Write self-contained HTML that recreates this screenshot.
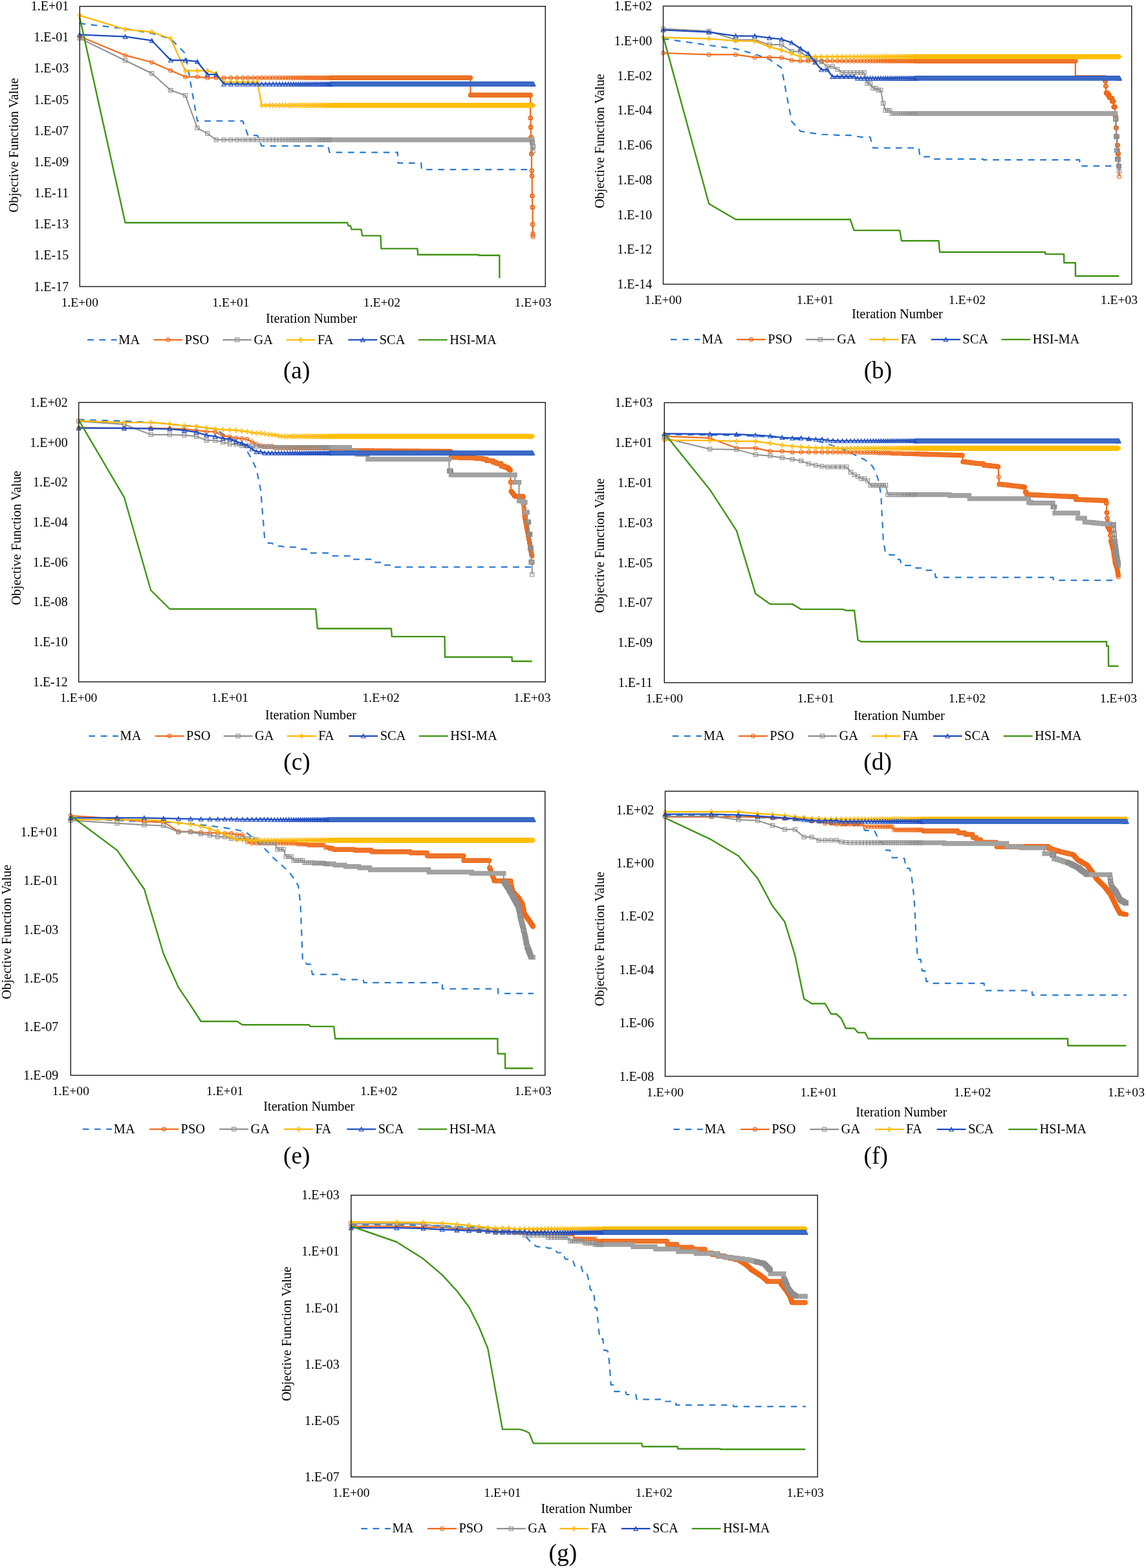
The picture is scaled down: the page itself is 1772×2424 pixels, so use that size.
<!DOCTYPE html><html><head><meta charset="utf-8"><title>Convergence curves</title><style>html,body{margin:0;padding:0;background:#fff;}svg{display:block;}</style></head><body>
<svg width="1772" height="2424" viewBox="0 0 1772 2424" font-family="'Liberation Serif','Times New Roman',serif" fill="#000">
<rect width="1772" height="2424" fill="#fff"/>
<defs><marker id="mPSO" markerUnits="userSpaceOnUse" markerWidth="12" markerHeight="12" refX="6" refY="6" overflow="visible"><circle cx="6" cy="6" r="2.95" fill="none" stroke="#EF6A1A" stroke-width="1.15"/></marker><marker id="mGA" markerUnits="userSpaceOnUse" markerWidth="12" markerHeight="12" refX="6" refY="6" overflow="visible"><rect x="2.95" y="3.1" width="6.1" height="5.8" fill="none" stroke="#8F8F8F" stroke-width="1.15"/></marker><marker id="mFA" markerUnits="userSpaceOnUse" markerWidth="12" markerHeight="12" refX="6" refY="6" overflow="visible"><path d="M6 2.4L8.7 6L6 9.6L3.3 6Z" fill="none" stroke="#FFB900" stroke-width="1.15"/></marker><marker id="mSCA" markerUnits="userSpaceOnUse" markerWidth="12" markerHeight="12" refX="6" refY="6" overflow="visible"><path d="M6 2.9L9.3 8.9L2.7 8.9Z" fill="none" stroke="#1C4BBF" stroke-width="1.15"/></marker><marker id="fPSO" markerUnits="userSpaceOnUse" markerWidth="12" markerHeight="12" refX="6" refY="6" overflow="visible"><circle cx="6" cy="6" r="3.3" fill="#EE7428" stroke="#EB620F" stroke-width="1"/></marker><marker id="fGA" markerUnits="userSpaceOnUse" markerWidth="12" markerHeight="12" refX="6" refY="6" overflow="visible"><rect x="2.8" y="2.85" width="6.4" height="6.3" fill="#A2A2A2" stroke="#999999" stroke-width="1"/></marker><marker id="fFA" markerUnits="userSpaceOnUse" markerWidth="12" markerHeight="12" refX="6" refY="6" overflow="visible"><path d="M6 2.3L9.9 6L6 9.7L2.1 6Z" fill="#FFBF00" stroke="#FFB800" stroke-width="1"/></marker><marker id="fSCA" markerUnits="userSpaceOnUse" markerWidth="12" markerHeight="12" refX="6" refY="6" overflow="visible"><path d="M5.1 2.6L6.9 2.6L10.1 9.4L1.9 9.4Z" fill="#3B6AC6" stroke="#2256BE" stroke-width="1"/></marker></defs>
<g>
<path d="M123.3 36.2 L193.6 44.4 L234.8 51.6 L263.9 60.1 L286.6 82.9 L305.1 187 L375.4 187 L383.5 209.4 L398 209.4 L404.6 225.7 L507.2 225.7 L509.5 235.6 L614.7 235.6 L615.5 252.2 L651.3 252.2 L651.8 262.1 L824.1 262.1" fill="none" stroke="#2A7AD0" stroke-width="2.2" stroke-linejoin="round" stroke-dasharray="8 10.3" stroke-linecap="round"/>
<path d="M123.3 56.2 L193.6 85.4 L234.8 96.2 L263.9 109 L286.6 118.8 L305.1 118.8 L320.7 120.3 L727.3 120.3 L727.5 147 L820.1 147 L820.2 182.4 L820.5 182.4 L820.6 196.6 L820.7 197.3 L820.8 196.1 L820.9 212.3 L821.4 212.3 L821.5 237.8 L821.9 237.8 L822.1 264 L822.3 264 L822.4 272 L822.7 272 L822.8 302.8 L823.1 302.8 L823.2 320.4 L823.5 320.4 L823.6 346.9 L823.8 346.9 L823.9 361.1 L824 363.5 L824.1 365.9" fill="none" stroke="#EF6A1A" stroke-width="2.2" stroke-linejoin="round"/>
<path d="M511.7 120.3H727.3M727.5 147H820.1" fill="none" stroke="#EB620F" stroke-width="7.6" stroke-linecap="round"/>
<path d="M511.7 120.3H727.3M727.5 147H820.1" fill="none" stroke="#EE7428" stroke-width="5.6" stroke-linecap="round"/>
<path d="M123.3 56.2 L193.6 85.4 L234.8 96.2 L263.9 109 L286.6 118.8 L305.1 118.8 L320.7 120.3 L334.3 120.3 L346.2 120.3 L356.9 120.3 L366.6 120.3 L375.4 120.3 L383.5 120.3 L391 120.3 L398 120.3 L404.6 120.3 L410.7 120.3 L416.5 120.3 L422 120.3 L427.2 120.3 L432.2 120.3 L436.9 120.3 L441.4 120.3 L445.7 120.3 L449.9 120.3 L453.8 120.3 L457.7 120.3 L461.4 120.3 L464.9 120.3 L468.4 120.3 L471.7 120.3 L474.9 120.3 L478 120.3 L481.1 120.3 L484 120.3 L486.9 120.3 L489.6 120.3 L492.3 120.3 L495 120.3 L497.5 120.3 L500 120.3 L502.5 120.3 L504.9 120.3 L507.2 120.3 L509.5 120.3 L820.2 182.4 L820.3 182.4 L820.4 182.4 L820.5 182.4 L820.6 196.6 L820.7 197.3 L820.8 196.1 L820.9 212.3 L821 212.3 L821.1 212.3 L821.2 212.3 L821.3 212.3 L821.4 212.3 L821.5 237.8 L821.6 237.8 L821.7 237.8 L821.8 237.8 L821.9 237.8 L822.1 264 L822.2 264 L822.3 264 L822.4 272 L822.5 272 L822.6 272 L822.7 272 L822.8 302.8 L822.9 302.8 L823 302.8 L823.1 302.8 L823.2 320.4 L823.3 320.4 L823.4 320.4 L823.5 320.4 L823.6 346.9 L823.7 346.9 L823.8 346.9 L823.9 361.1 L824 363.5 L824.1 365.9" fill="none" stroke="none" marker-start="url(#mPSO)" marker-mid="url(#mPSO)" marker-end="url(#mPSO)"/>
<path d="M123.3 59.1 L193.6 93.5 L234.8 113.5 L263.9 139.5 L286.6 147.5 L305.1 197.8 L320.7 206.5 L334.3 216.1 L823 216.1 L823.1 220.2 L823.5 220.2 L823.6 226.2 L824 226.2 L824.1 233.7" fill="none" stroke="#8F8F8F" stroke-width="2.0" stroke-linejoin="round"/>
<path d="M511.7 216.1H823" fill="none" stroke="#999999" stroke-width="7.3" stroke-linecap="square"/>
<path d="M511.7 216.1H823" fill="none" stroke="#A2A2A2" stroke-width="5.3" stroke-linecap="square"/>
<path d="M123.3 59.1 L193.6 93.5 L234.8 113.5 L263.9 139.5 L286.6 147.5 L305.1 197.8 L320.7 206.5 L334.3 216.1 L346.2 216.1 L356.9 216.1 L366.6 216.1 L375.4 216.1 L383.5 216.1 L391 216.1 L398 216.1 L404.6 216.1 L410.7 216.1 L416.5 216.1 L422 216.1 L427.2 216.1 L432.2 216.1 L436.9 216.1 L441.4 216.1 L445.7 216.1 L449.9 216.1 L453.8 216.1 L457.7 216.1 L461.4 216.1 L464.9 216.1 L468.4 216.1 L471.7 216.1 L474.9 216.1 L478 216.1 L481.1 216.1 L484 216.1 L486.9 216.1 L489.6 216.1 L492.3 216.1 L495 216.1 L497.5 216.1 L500 216.1 L502.5 216.1 L504.9 216.1 L507.2 216.1 L509.5 216.1 L823.1 220.2 L823.2 220.2 L823.3 220.2 L823.4 220.2 L823.5 220.2 L823.6 226.2 L823.7 226.2 L823.8 226.2 L823.9 226.2 L824 226.2 L824.1 233.7" fill="none" stroke="none" marker-start="url(#mGA)" marker-mid="url(#mGA)" marker-end="url(#mGA)"/>
<path d="M123.3 23.9 L193.6 45.4 L234.8 49.5 L263.9 59.8 L286.6 109.4 L320.7 109.4 L334.3 113.5 L346.2 127 L398 127 L404.6 162.9 L824.1 162.9" fill="none" stroke="#FFB900" stroke-width="2.3" stroke-linejoin="round"/>
<path d="M511.7 162.9 L824.1 162.9" fill="none" stroke="none" marker-start="url(#fFA)" marker-mid="url(#fFA)" marker-end="url(#fFA)"/>
<path d="M511.7 162.9H824.1" fill="none" stroke="#FFB800" stroke-width="7.8" stroke-linecap="butt"/>
<path d="M511.7 162.9H824.1" fill="none" stroke="#FFBF00" stroke-width="5.8" stroke-linecap="butt"/>
<path d="M123.3 23.9 L193.6 45.4 L234.8 49.5 L263.9 59.8 L286.6 109.4 L305.1 109.4 L320.7 109.4 L334.3 113.5 L346.2 127 L356.9 127 L366.6 127 L375.4 127 L383.5 127 L391 127 L398 127 L404.6 162.9 L410.7 162.9 L416.5 162.9 L422 162.9 L427.2 162.9 L432.2 162.9 L436.9 162.9 L441.4 162.9 L445.7 162.9 L449.9 162.9 L453.8 162.9 L457.7 162.9 L461.4 162.9 L464.9 162.9 L468.4 162.9 L471.7 162.9 L474.9 162.9 L478 162.9 L481.1 162.9 L484 162.9 L486.9 162.9 L489.6 162.9 L492.3 162.9 L495 162.9 L497.5 162.9 L500 162.9 L502.5 162.9 L504.9 162.9 L507.2 162.9 L509.5 162.9" fill="none" stroke="none" marker-start="url(#mFA)" marker-mid="url(#mFA)" marker-end="url(#mFA)"/>
<path d="M123.3 53.6 L193.6 56.7 L234.8 62.7 L263.9 93.1 L286.6 93.1 L305.1 95.2 L320.7 115.2 L334.3 115.2 L346.2 129.9 L824.1 129.9" fill="none" stroke="#1C4BBF" stroke-width="2.3" stroke-linejoin="round"/>
<path d="M511.7 129.9 L824.1 129.9" fill="none" stroke="none" marker-start="url(#fSCA)" marker-mid="url(#fSCA)" marker-end="url(#fSCA)"/>
<path d="M511.7 129.9H824.1" fill="none" stroke="#2256BE" stroke-width="7.8" stroke-linecap="butt"/>
<path d="M511.7 129.9H824.1" fill="none" stroke="#3B6AC6" stroke-width="5.8" stroke-linecap="butt"/>
<path d="M123.3 53.6 L193.6 56.7 L234.8 62.7 L263.9 93.1 L286.6 93.1 L305.1 95.2 L320.7 115.2 L334.3 115.2 L346.2 129.9 L356.9 129.9 L366.6 129.9 L375.4 129.9 L383.5 129.9 L391 129.9 L398 129.9 L404.6 129.9 L410.7 129.9 L416.5 129.9 L422 129.9 L427.2 129.9 L432.2 129.9 L436.9 129.9 L441.4 129.9 L445.7 129.9 L449.9 129.9 L453.8 129.9 L457.7 129.9 L461.4 129.9 L464.9 129.9 L468.4 129.9 L471.7 129.9 L474.9 129.9 L478 129.9 L481.1 129.9 L484 129.9 L486.9 129.9 L489.6 129.9 L492.3 129.9 L495 129.9 L497.5 129.9 L500 129.9 L502.5 129.9 L504.9 129.9 L507.2 129.9 L509.5 129.9" fill="none" stroke="none" marker-start="url(#mSCA)" marker-mid="url(#mSCA)" marker-end="url(#mSCA)"/>
<path d="M123.3 27.3 L193.6 344.2 L537 344.2 L538.7 349 L542 349 L543.6 354.6 L558.6 354.6 L560 364.4 L588.5 364.4 L589.5 384.4 L645.5 384.4 L646.1 393.8 L739.9 393.8 L740.1 394.8 L772.3 394.8 L772.4 429.9" fill="none" stroke="#409414" stroke-width="2.4" stroke-linejoin="round"/>
<rect x="123.3" y="9.8" width="720" height="433.2" fill="none" stroke="#222" stroke-width="1.5"/>
<g font-size="20.0" text-anchor="end"><text x="106.2" y="16.1">1.E+01</text><text x="106.2" y="64.3">1.E-01</text><text x="106.2" y="112.4">1.E-03</text><text x="106.2" y="160.6">1.E-05</text><text x="106.2" y="208.7">1.E-07</text><text x="106.2" y="256.9">1.E-09</text><text x="106.2" y="305.1">1.E-11</text><text x="106.2" y="353.2">1.E-13</text><text x="106.2" y="401.4">1.E-15</text><text x="106.2" y="449.5">1.E-17</text></g>
<g font-size="19.6" text-anchor="middle"><text x="123.3" y="473.9">1.E+00</text><text x="356.9" y="473.9">1.E+01</text><text x="590.5" y="473.9">1.E+02</text><text x="824.1" y="473.9">1.E+03</text></g>
<text x="481.5" y="498.9" font-size="20.4" text-anchor="middle">Iteration Number</text>
<text transform="translate(28.1 224.5) rotate(-90)" font-size="20.4" text-anchor="middle">Objective Function Value</text>
<g font-size="20.4"><path d="M136.1 525.3H179.8" stroke="#2A7AD0" stroke-width="2.2" stroke-dasharray="8 10.3" stroke-linecap="round" fill="none"/><text x="183.3" y="531.5">MA</text><path d="M237.5 525.3H282.3" stroke="#EF6A1A" stroke-width="2.2" fill="none"/><path d="M259.9 525.3L259.9 525.3" stroke="none" fill="none" marker-start="url(#mPSO)"/><text x="285.8" y="531.5">PSO</text><path d="M344.3 525.3H389.1" stroke="#8F8F8F" stroke-width="2.2" fill="none"/><path d="M366.7 525.3L366.7 525.3" stroke="none" fill="none" marker-start="url(#mGA)"/><text x="392.6" y="531.5">GA</text><path d="M442.6 525.3H487.4" stroke="#FFB900" stroke-width="2.2" fill="none"/><path d="M465 525.3L465 525.3" stroke="none" fill="none" marker-start="url(#mFA)"/><text x="490.9" y="531.5">FA</text><path d="M538.4 525.3H583.2" stroke="#1C4BBF" stroke-width="2.2" fill="none"/><path d="M560.8 525.3L560.8 525.3" stroke="none" fill="none" marker-start="url(#mSCA)"/><text x="586.7" y="531.5">SCA</text><path d="M646.9 525.3H691.7" stroke="#409414" stroke-width="2.2" fill="none"/><text x="695.2" y="531.5">HSI-MA</text></g>
<text x="458.7" y="585.4" font-size="37.5" text-anchor="middle">(a)</text>
</g>
<g>
<path d="M1025.5 59.8 L1096.2 70 L1137.6 75.5 L1167 83.6 L1189.8 91.9 L1208.4 104.8 L1224.1 187.6 L1237.7 202.9 L1249.7 204.8 L1260.5 206.4 L1270.2 208 L1287.3 208 L1294.8 209.1 L1314.7 209.1 L1320.5 211 L1326 211 L1331.2 211.8 L1345.5 211.8 L1349.8 228.7 L1420.6 228.7 L1422.7 242.4 L1441.7 242.4 L1443.4 245.9 L1519.9 245.9 L1520.7 247.2 L1669.3 247.2 L1669.5 256.6 L1730.5 256.6" fill="none" stroke="#2A7AD0" stroke-width="2.2" stroke-linejoin="round" stroke-dasharray="8 10.3" stroke-linecap="round"/>
<path d="M1025.5 82 L1096.2 84.4 L1137.6 84.4 L1167 88.7 L1189.8 88.7 L1208.4 89.2 L1224.1 93.3 L1237.7 94.3 L1662.8 94.3 L1663 120.1 L1708.5 120.1 L1708.6 125 L1709.5 125 L1709.6 133 L1710.1 133 L1710.2 143.8 L1712.6 143.8 L1712.7 146.5 L1715 146.5 L1715.1 150.8 L1717.3 150.8 L1717.5 151.8 L1719.6 151.8 L1719.7 156.7 L1721.9 156.7 L1722 165.3 L1724.1 165.3 L1724.2 178.7 L1725.2 178.7 L1725.3 197.5 L1726.2 197.5 L1726.3 211 L1727.3 211 L1727.4 224.4 L1728.3 224.4 L1728.4 237.8 L1729.4 237.8 L1729.5 256.6 L1730.4 256.6 L1730.5 272.8" fill="none" stroke="#EF6A1A" stroke-width="2.2" stroke-linejoin="round"/>
<path d="M1416.2 94.3H1662.8M1663 120.1H1708.5" fill="none" stroke="#EB620F" stroke-width="7.6" stroke-linecap="round"/>
<path d="M1416.2 94.3H1662.8M1663 120.1H1708.5" fill="none" stroke="#EE7428" stroke-width="5.6" stroke-linecap="round"/>
<path d="M1025.5 82 L1096.2 84.4 L1137.6 84.4 L1167 88.7 L1189.8 88.7 L1208.4 89.2 L1224.1 93.3 L1237.7 94.3 L1249.7 94.3 L1260.5 94.3 L1270.2 94.3 L1279.1 94.3 L1287.3 94.3 L1294.8 94.3 L1301.9 94.3 L1308.5 94.3 L1314.7 94.3 L1320.5 94.3 L1326 94.3 L1331.2 94.3 L1336.2 94.3 L1341 94.3 L1345.5 94.3 L1349.8 94.3 L1354 94.3 L1358 94.3 L1361.9 94.3 L1365.6 94.3 L1369.2 94.3 L1372.6 94.3 L1376 94.3 L1379.2 94.3 L1382.4 94.3 L1385.4 94.3 L1388.4 94.3 L1391.2 94.3 L1394 94.3 L1396.7 94.3 L1399.4 94.3 L1402 94.3 L1404.5 94.3 L1407 94.3 L1409.4 94.3 L1411.7 94.3 L1414 94.3 L1708.6 125 L1708.7 125 L1708.9 125 L1709 125 L1709.1 125 L1709.2 125 L1709.4 125 L1709.5 125 L1709.6 133 L1709.7 133 L1709.9 133 L1710 133 L1710.1 133 L1710.2 143.8 L1710.4 143.8 L1710.5 143.8 L1710.6 143.8 L1710.7 143.8 L1710.9 143.8 L1711 143.8 L1711.1 143.8 L1711.2 143.8 L1711.4 143.8 L1711.5 143.8 L1711.6 143.8 L1711.7 143.8 L1711.9 143.8 L1712 143.8 L1712.1 143.8 L1712.2 143.8 L1712.3 143.8 L1712.5 143.8 L1712.6 143.8 L1712.7 146.5 L1712.8 146.5 L1712.9 146.5 L1713.1 146.5 L1713.2 146.5 L1713.3 146.5 L1713.4 146.5 L1713.6 146.5 L1713.7 146.5 L1713.8 146.5 L1713.9 146.5 L1714 146.5 L1714.2 146.5 L1714.3 146.5 L1714.4 146.5 L1714.5 146.5 L1714.6 146.5 L1714.8 146.5 L1714.9 146.5 L1715 146.5 L1715.1 150.8 L1715.2 150.8 L1715.3 150.8 L1715.5 150.8 L1715.6 150.8 L1715.7 150.8 L1715.8 150.8 L1715.9 150.8 L1716.1 150.8 L1716.2 150.8 L1716.3 150.8 L1716.4 150.8 L1716.5 150.8 L1716.6 150.8 L1716.8 150.8 L1716.9 150.8 L1717 150.8 L1717.1 150.8 L1717.2 150.8 L1717.3 150.8 L1717.5 151.8 L1717.6 151.8 L1717.7 151.8 L1717.8 151.8 L1717.9 151.8 L1718 151.8 L1718.1 151.8 L1718.3 151.8 L1718.4 151.8 L1718.5 151.8 L1718.6 151.8 L1718.7 151.8 L1718.8 151.8 L1719 151.8 L1719.1 151.8 L1719.2 151.8 L1719.3 151.8 L1719.4 151.8 L1719.5 151.8 L1719.6 151.8 L1719.7 156.7 L1719.9 156.7 L1720 156.7 L1720.1 156.7 L1720.2 156.7 L1720.3 156.7 L1720.4 156.7 L1720.5 156.7 L1720.7 156.7 L1720.8 156.7 L1720.9 156.7 L1721 156.7 L1721.1 156.7 L1721.2 156.7 L1721.3 156.7 L1721.4 156.7 L1721.5 156.7 L1721.7 156.7 L1721.8 156.7 L1721.9 156.7 L1722 165.3 L1722.1 165.3 L1722.2 165.3 L1722.3 165.3 L1722.4 165.3 L1722.5 165.3 L1722.7 165.3 L1722.8 165.3 L1722.9 165.3 L1723 165.3 L1723.1 165.3 L1723.2 165.3 L1723.3 165.3 L1723.4 165.3 L1723.5 165.3 L1723.6 165.3 L1723.7 165.3 L1723.9 165.3 L1724 165.3 L1724.1 165.3 L1724.2 178.7 L1724.3 178.7 L1724.4 178.7 L1724.5 178.7 L1724.6 178.7 L1724.7 178.7 L1724.8 178.7 L1724.9 178.7 L1725 178.7 L1725.2 178.7 L1725.3 197.5 L1725.4 197.5 L1725.5 197.5 L1725.6 197.5 L1725.7 197.5 L1725.8 197.5 L1725.9 197.5 L1726 197.5 L1726.1 197.5 L1726.2 197.5 L1726.3 211 L1726.4 211 L1726.5 211 L1726.7 211 L1726.8 211 L1726.9 211 L1727 211 L1727.1 211 L1727.2 211 L1727.3 211 L1727.4 224.4 L1727.5 224.4 L1727.6 224.4 L1727.7 224.4 L1727.8 224.4 L1727.9 224.4 L1728 224.4 L1728.1 224.4 L1728.2 224.4 L1728.3 224.4 L1728.4 237.8 L1728.5 237.8 L1728.6 237.8 L1728.8 237.8 L1728.9 237.8 L1729 237.8 L1729.1 237.8 L1729.2 237.8 L1729.3 237.8 L1729.4 237.8 L1729.5 256.6 L1729.6 256.6 L1729.7 256.6 L1729.8 256.6 L1729.9 256.6 L1730 256.6 L1730.1 256.6 L1730.2 256.6 L1730.3 256.6 L1730.4 256.6 L1730.5 272.8" fill="none" stroke="none" marker-start="url(#mPSO)" marker-mid="url(#mPSO)" marker-end="url(#mPSO)"/>
<path d="M1025.5 44.6 L1096.2 48.1 L1137.6 61.5 L1167 61.5 L1189.8 69.1 L1208.4 69.1 L1224.1 79.3 L1237.7 80.1 L1249.7 89.5 L1260.5 93 L1270.2 95.4 L1279.1 102.9 L1287.3 102.9 L1294.8 107.2 L1301.9 112.3 L1336.2 112.3 L1341 129 L1345.5 129 L1349.8 136.3 L1354 136.3 L1358 139.2 L1361.9 139.2 L1365.6 159.6 L1369.2 170.7 L1376 170.7 L1379.2 175.5 L1724.6 175.5 L1724.7 184.1 L1725.7 184.1 L1725.8 211 L1726.8 211 L1726.9 232.5 L1727.8 232.5 L1727.9 245.9 L1729.4 245.9 L1729.5 256.6 L1730.4 256.6 L1730.5 264.7" fill="none" stroke="#8F8F8F" stroke-width="2.0" stroke-linejoin="round"/>
<path d="M1416.2 175.5H1724.6" fill="none" stroke="#999999" stroke-width="7.3" stroke-linecap="square"/>
<path d="M1416.2 175.5H1724.6" fill="none" stroke="#A2A2A2" stroke-width="5.3" stroke-linecap="square"/>
<path d="M1025.5 44.6 L1096.2 48.1 L1137.6 61.5 L1167 61.5 L1189.8 69.1 L1208.4 69.1 L1224.1 79.3 L1237.7 80.1 L1249.7 89.5 L1260.5 93 L1270.2 95.4 L1279.1 102.9 L1287.3 102.9 L1294.8 107.2 L1301.9 112.3 L1308.5 112.3 L1314.7 112.3 L1320.5 112.3 L1326 112.3 L1331.2 112.3 L1336.2 112.3 L1341 129 L1345.5 129 L1349.8 136.3 L1354 136.3 L1358 139.2 L1361.9 139.2 L1365.6 159.6 L1369.2 170.7 L1372.6 170.7 L1376 170.7 L1379.2 175.5 L1382.4 175.5 L1385.4 175.5 L1388.4 175.5 L1391.2 175.5 L1394 175.5 L1396.7 175.5 L1399.4 175.5 L1402 175.5 L1404.5 175.5 L1407 175.5 L1409.4 175.5 L1411.7 175.5 L1414 175.5 L1724.7 184.1 L1724.8 184.1 L1724.9 184.1 L1725 184.1 L1725.2 184.1 L1725.3 184.1 L1725.4 184.1 L1725.5 184.1 L1725.6 184.1 L1725.7 184.1 L1725.8 211 L1725.9 211 L1726 211 L1726.1 211 L1726.2 211 L1726.3 211 L1726.4 211 L1726.5 211 L1726.7 211 L1726.8 211 L1726.9 232.5 L1727 232.5 L1727.1 232.5 L1727.2 232.5 L1727.3 232.5 L1727.4 232.5 L1727.5 232.5 L1727.6 232.5 L1727.7 232.5 L1727.8 232.5 L1727.9 245.9 L1728 245.9 L1728.1 245.9 L1728.2 245.9 L1728.3 245.9 L1728.4 245.9 L1728.5 245.9 L1728.6 245.9 L1728.8 245.9 L1728.9 245.9 L1729 245.9 L1729.1 245.9 L1729.2 245.9 L1729.3 245.9 L1729.4 245.9 L1729.5 256.6 L1729.6 256.6 L1729.7 256.6 L1729.8 256.6 L1729.9 256.6 L1730 256.6 L1730.1 256.6 L1730.2 256.6 L1730.3 256.6 L1730.4 256.6 L1730.5 264.7" fill="none" stroke="none" marker-start="url(#mGA)" marker-mid="url(#mGA)" marker-end="url(#mGA)"/>
<path d="M1025.5 58 L1096.2 59.8 L1137.6 63.1 L1167 63.7 L1189.8 72.3 L1208.4 77.4 L1224.1 82.8 L1237.7 87.6 L1730.5 87.6" fill="none" stroke="#FFB900" stroke-width="2.3" stroke-linejoin="round"/>
<path d="M1416.2 87.6 L1730.5 87.6" fill="none" stroke="none" marker-start="url(#fFA)" marker-mid="url(#fFA)" marker-end="url(#fFA)"/>
<path d="M1416.2 87.6H1730.5" fill="none" stroke="#FFB800" stroke-width="7.8" stroke-linecap="butt"/>
<path d="M1416.2 87.6H1730.5" fill="none" stroke="#FFBF00" stroke-width="5.8" stroke-linecap="butt"/>
<path d="M1025.5 58 L1096.2 59.8 L1137.6 63.1 L1167 63.7 L1189.8 72.3 L1208.4 77.4 L1224.1 82.8 L1237.7 87.6 L1249.7 87.6 L1260.5 87.6 L1270.2 87.6 L1279.1 87.6 L1287.3 87.6 L1294.8 87.6 L1301.9 87.6 L1308.5 87.6 L1314.7 87.6 L1320.5 87.6 L1326 87.6 L1331.2 87.6 L1336.2 87.6 L1341 87.6 L1345.5 87.6 L1349.8 87.6 L1354 87.6 L1358 87.6 L1361.9 87.6 L1365.6 87.6 L1369.2 87.6 L1372.6 87.6 L1376 87.6 L1379.2 87.6 L1382.4 87.6 L1385.4 87.6 L1388.4 87.6 L1391.2 87.6 L1394 87.6 L1396.7 87.6 L1399.4 87.6 L1402 87.6 L1404.5 87.6 L1407 87.6 L1409.4 87.6 L1411.7 87.6 L1414 87.6" fill="none" stroke="none" marker-start="url(#mFA)" marker-mid="url(#mFA)" marker-end="url(#mFA)"/>
<path d="M1025.5 46.3 L1096.2 49.7 L1137.6 55.6 L1167 55.6 L1189.8 58.6 L1208.4 60.7 L1224.1 66.1 L1237.7 75 L1249.7 82.8 L1260.5 96.2 L1270.2 107.8 L1279.1 107.8 L1287.3 118.5 L1320.5 118.5 L1326 120.9 L1730.5 120.9" fill="none" stroke="#1C4BBF" stroke-width="2.3" stroke-linejoin="round"/>
<path d="M1416.2 120.9 L1730.5 120.9" fill="none" stroke="none" marker-start="url(#fSCA)" marker-mid="url(#fSCA)" marker-end="url(#fSCA)"/>
<path d="M1416.2 120.9H1730.5" fill="none" stroke="#2256BE" stroke-width="7.8" stroke-linecap="butt"/>
<path d="M1416.2 120.9H1730.5" fill="none" stroke="#3B6AC6" stroke-width="5.8" stroke-linecap="butt"/>
<path d="M1025.5 46.3 L1096.2 49.7 L1137.6 55.6 L1167 55.6 L1189.8 58.6 L1208.4 60.7 L1224.1 66.1 L1237.7 75 L1249.7 82.8 L1260.5 96.2 L1270.2 107.8 L1279.1 107.8 L1287.3 118.5 L1294.8 118.5 L1301.9 118.5 L1308.5 118.5 L1314.7 118.5 L1320.5 118.5 L1326 120.9 L1331.2 120.9 L1336.2 120.9 L1341 120.9 L1345.5 120.9 L1349.8 120.9 L1354 120.9 L1358 120.9 L1361.9 120.9 L1365.6 120.9 L1369.2 120.9 L1372.6 120.9 L1376 120.9 L1379.2 120.9 L1382.4 120.9 L1385.4 120.9 L1388.4 120.9 L1391.2 120.9 L1394 120.9 L1396.7 120.9 L1399.4 120.9 L1402 120.9 L1404.5 120.9 L1407 120.9 L1409.4 120.9 L1411.7 120.9 L1414 120.9" fill="none" stroke="none" marker-start="url(#mSCA)" marker-mid="url(#mSCA)" marker-end="url(#mSCA)"/>
<path d="M1025.5 56.4 L1096.2 315 L1137.6 339.2 L1314.7 339.2 L1320.5 356.1 L1391.2 356.1 L1394 372.2 L1451.5 372.2 L1453.1 389.7 L1616.1 389.7 L1616.4 392.9 L1645.1 392.9 L1645.3 406.3 L1662.8 406.3 L1663 426.8 L1730.5 426.8" fill="none" stroke="#409414" stroke-width="2.4" stroke-linejoin="round"/>
<rect x="1025.5" y="9.4" width="724.3" height="430" fill="none" stroke="#222" stroke-width="1.5"/>
<g font-size="20.0" text-anchor="end"><text x="1008.2" y="16">1.E+02</text><text x="1008.2" y="69.8">1.E+00</text><text x="1008.2" y="123.5">1.E-02</text><text x="1008.2" y="177.2">1.E-04</text><text x="1008.2" y="231">1.E-06</text><text x="1008.2" y="284.8">1.E-08</text><text x="1008.2" y="338.5">1.E-10</text><text x="1008.2" y="392.2">1.E-12</text><text x="1008.2" y="446">1.E-14</text></g>
<g font-size="19.6" text-anchor="middle"><text x="1025.5" y="470">1.E+00</text><text x="1260.5" y="470">1.E+01</text><text x="1495.5" y="470">1.E+02</text><text x="1730.5" y="470">1.E+03</text></g>
<text x="1387.4" y="491.5" font-size="20.4" text-anchor="middle">Iteration Number</text>
<text transform="translate(933.8 218.1) rotate(-90)" font-size="20.4" text-anchor="middle">Objective Function Value</text>
<g font-size="20.4"><path d="M1037.8 524.8H1081.5" stroke="#2A7AD0" stroke-width="2.2" stroke-dasharray="8 10.3" stroke-linecap="round" fill="none"/><text x="1085" y="531">MA</text><path d="M1139 524.8H1183.8" stroke="#EF6A1A" stroke-width="2.2" fill="none"/><path d="M1161.4 524.8L1161.4 524.8" stroke="none" fill="none" marker-start="url(#mPSO)"/><text x="1187.3" y="531">PSO</text><path d="M1245.9 524.8H1290.7" stroke="#8F8F8F" stroke-width="2.2" fill="none"/><path d="M1268.3 524.8L1268.3 524.8" stroke="none" fill="none" marker-start="url(#mGA)"/><text x="1294.2" y="531">GA</text><path d="M1344.4 524.8H1389.2" stroke="#FFB900" stroke-width="2.2" fill="none"/><path d="M1366.8 524.8L1366.8 524.8" stroke="none" fill="none" marker-start="url(#mFA)"/><text x="1392.7" y="531">FA</text><path d="M1440 524.8H1484.8" stroke="#1C4BBF" stroke-width="2.2" fill="none"/><path d="M1462.4 524.8L1462.4 524.8" stroke="none" fill="none" marker-start="url(#mSCA)"/><text x="1488.3" y="531">SCA</text><path d="M1548.5 524.8H1593.3" stroke="#409414" stroke-width="2.2" fill="none"/><text x="1596.8" y="531">HSI-MA</text></g>
<text x="1357.5" y="585.3" font-size="37.5" text-anchor="middle">(b)</text>
</g>
<g>
<path d="M121.7 648.7 L192.1 650.9 L233.2 653.1 L262.4 655.5 L285 657.7 L303.6 659.2 L319.2 661.4 L332.8 663.2 L344.7 670.9 L355.4 677.1 L365.1 681.4 L373.9 686.7 L382 697.2 L389.6 710.7 L396.6 725.2 L403.1 757.9 L409.3 833.8 L415.1 839.7 L420.5 839.7 L425.8 844.3 L435.4 844.3 L439.9 845.9 L459.9 845.9 L463.5 848.9 L473.5 848.9 L476.6 854.8 L510.3 854.8 L512.5 859.4 L540.6 859.4 L542.2 864.7 L573.8 864.7 L575 869.3 L590.1 869.3 L591.1 873.6 L605.9 873.6 L606.8 876.7 L822.8 876.7" fill="none" stroke="#2A7AD0" stroke-width="2.2" stroke-linejoin="round" stroke-dasharray="8 10.3" stroke-linecap="round"/>
<path d="M121.7 661.4 L192.1 662 L233.2 662 L262.4 662.6 L285 663.2 L303.6 665.4 L319.2 667.2 L332.8 667.5 L344.7 673.7 L355.4 675.3 L365.1 677.1 L373.9 678 L382 679 L389.6 682.7 L396.6 686.4 L403.1 689.1 L409.3 689.8 L420.5 689.8 L425.8 692.5 L535.5 692.5 L537.3 696.9 L577.3 696.9 L578.4 697.1 L606.8 697.1 L607.6 697.3 L629.6 697.3 L630.3 697.4 L648.2 697.4 L648.8 697.5 L663.9 697.5 L664.4 697.6 L677.5 697.6 L678 697.7 L689.5 697.7 L689.9 697.8 L694.3 697.8 L694.7 697.8 L696.8 697.8 L697.2 707 L710 707 L710.3 707.7 L734.5 707.7 L734.8 708.6 L746 708.6 L746.2 709.8 L752.2 709.8 L752.4 712.3 L762.3 712.3 L762.5 714.8 L767.3 714.8 L767.5 716.6 L774.9 716.6 L775.1 720.6 L780.5 720.6 L780.6 722.5 L785 722.5 L785.1 724.6 L787.6 724.6 L787.8 726.5 L789 726.5 L789.2 727.1 L789.3 727.1 L789.5 745.6 L790 745.6 L790.2 759.5 L790.7 759.5 L790.9 760.4 L791.4 760.4 L791.6 761.2 L792.1 761.2 L792.2 762.1 L792.8 762.1 L792.9 763 L793.5 763 L793.6 763.8 L794.1 763.8 L794.3 764.7 L794.8 764.7 L794.9 765.5 L795.5 765.5 L795.6 766.4 L796.1 766.4 L796.3 767.2 L808.5 767.2 L808.7 768.7 L809 768.7 L809.1 774.5 L809.5 774.5 L809.6 780.3 L809.9 780.3 L810.1 786 L810.4 786 L810.5 791.7 L810.9 791.7 L811 797.4 L811.3 797.4 L811.4 799.8 L811.8 799.8 L811.9 802.2 L812.2 802.2 L812.3 804.6 L812.7 804.6 L812.8 807 L813.1 807 L813.2 809.4 L813.6 809.4 L813.7 811.7 L813.9 811.7 L814 813.5 L814.3 813.5 L814.4 815.8 L814.8 815.8 L814.9 818.1 L815.2 818.1 L815.3 820.5 L815.7 820.5 L815.8 822.8 L816.1 822.8 L816.2 825.1 L816.5 825.1 L816.6 827.4 L817 827.4 L817.1 829.7 L817.4 829.7 L817.5 831.9 L817.8 831.9 L817.9 834.2 L818.2 834.2 L818.3 836.5 L818.6 836.5 L818.7 838.2 L819 838.2 L819.1 840.8 L819.4 840.8 L819.5 843.5 L819.8 843.5 L819.9 846.1 L820.2 846.1 L820.3 848.8 L820.6 848.8 L820.7 851.4 L821.1 851.4 L821.2 854 L821.5 854 L821.6 856.6 L821.7 856.6 L821.8 857.9 L822.7 857.9 L822.8 859.7" fill="none" stroke="#EF6A1A" stroke-width="2.2" stroke-linejoin="round"/>
<path d="M510.3 692.5H535.5M537.3 696.9H577.3M578.4 697.1H606.8M607.6 697.3H629.6M630.3 697.4H648.2M648.8 697.5H663.9M664.4 697.6H677.5M678 697.7H689.5M689.9 697.8H694.3M697.2 707H710M710.3 707.7H734.5M734.8 708.6H746M746.2 709.8H752.2M752.4 712.3H762.3M762.5 714.8H767.3M767.5 716.6H774.9M775.1 720.6H780.5M780.6 722.5H785M796.3 767.2H808.5" fill="none" stroke="#EB620F" stroke-width="7.6" stroke-linecap="round"/>
<path d="M510.3 692.5H535.5M537.3 696.9H577.3M578.4 697.1H606.8M607.6 697.3H629.6M630.3 697.4H648.2M648.8 697.5H663.9M664.4 697.6H677.5M678 697.7H689.5M689.9 697.8H694.3M697.2 707H710M710.3 707.7H734.5M734.8 708.6H746M746.2 709.8H752.2M752.4 712.3H762.3M762.5 714.8H767.3M767.5 716.6H774.9M775.1 720.6H780.5M780.6 722.5H785M796.3 767.2H808.5" fill="none" stroke="#EE7428" stroke-width="5.6" stroke-linecap="round"/>
<path d="M121.7 661.4 L192.1 662 L233.2 662 L262.4 662.6 L285 663.2 L303.6 665.4 L319.2 667.2 L332.8 667.5 L344.7 673.7 L355.4 675.3 L365.1 677.1 L373.9 678 L382 679 L389.6 682.7 L396.6 686.4 L403.1 689.1 L409.3 689.8 L415.1 689.8 L420.5 689.8 L425.8 692.5 L430.7 692.5 L435.4 692.5 L439.9 692.5 L444.3 692.5 L448.4 692.5 L452.4 692.5 L456.2 692.5 L459.9 692.5 L463.5 692.5 L466.9 692.5 L470.2 692.5 L473.5 692.5 L476.6 692.5 L479.6 692.5 L482.5 692.5 L485.4 692.5 L488.2 692.5 L490.9 692.5 L493.5 692.5 L496.1 692.5 L498.6 692.5 L501.1 692.5 L503.4 692.5 L505.8 692.5 L508.1 692.5 L694.7 697.8 L695 697.8 L695.4 697.8 L695.8 697.8 L696.1 697.8 L696.5 697.8 L696.8 697.8 L785.1 724.6 L785.3 724.6 L785.4 724.6 L785.6 724.6 L785.7 724.6 L785.9 724.6 L786 724.6 L786.2 724.6 L786.3 724.6 L786.5 724.6 L786.6 724.6 L786.7 724.6 L786.9 724.6 L787 724.6 L787.2 724.6 L787.3 724.6 L787.5 724.6 L787.6 724.6 L787.8 726.5 L787.9 726.5 L788 726.5 L788.2 726.5 L788.3 726.5 L788.5 726.5 L788.6 726.5 L788.8 726.5 L788.9 726.5 L789 726.5 L789.2 727.1 L789.3 727.1 L789.5 745.6 L789.6 745.6 L789.7 745.6 L789.9 745.6 L790 745.6 L790.2 759.5 L790.3 759.5 L790.4 759.5 L790.6 759.5 L790.7 759.5 L790.9 760.4 L791 760.4 L791.1 760.4 L791.3 760.4 L791.4 760.4 L791.6 761.2 L791.7 761.2 L791.8 761.2 L792 761.2 L792.1 761.2 L792.2 762.1 L792.4 762.1 L792.5 762.1 L792.7 762.1 L792.8 762.1 L792.9 763 L793.1 763 L793.2 763 L793.3 763 L793.5 763 L793.6 763.8 L793.7 763.8 L793.9 763.8 L794 763.8 L794.1 763.8 L794.3 764.7 L794.4 764.7 L794.5 764.7 L794.7 764.7 L794.8 764.7 L794.9 765.5 L795.1 765.5 L795.2 765.5 L795.3 765.5 L795.5 765.5 L795.6 766.4 L795.7 766.4 L795.9 766.4 L796 766.4 L796.1 766.4 L808.7 768.7 L808.8 768.7 L808.9 768.7 L809 768.7 L809.1 774.5 L809.2 774.5 L809.4 774.5 L809.5 774.5 L809.6 780.3 L809.7 780.3 L809.8 780.3 L809.9 780.3 L810.1 786 L810.2 786 L810.3 786 L810.4 786 L810.5 791.7 L810.6 791.7 L810.7 791.7 L810.9 791.7 L811 797.4 L811.1 797.4 L811.2 797.4 L811.3 797.4 L811.4 799.8 L811.5 799.8 L811.7 799.8 L811.8 799.8 L811.9 802.2 L812 802.2 L812.1 802.2 L812.2 802.2 L812.3 804.6 L812.4 804.6 L812.6 804.6 L812.7 804.6 L812.8 807 L812.9 807 L813 807 L813.1 807 L813.2 809.4 L813.3 809.4 L813.5 809.4 L813.6 809.4 L813.7 811.7 L813.8 811.7 L813.9 811.7 L814 813.5 L814.1 813.5 L814.2 813.5 L814.3 813.5 L814.4 815.8 L814.6 815.8 L814.7 815.8 L814.8 815.8 L814.9 818.1 L815 818.1 L815.1 818.1 L815.2 818.1 L815.3 820.5 L815.4 820.5 L815.5 820.5 L815.7 820.5 L815.8 822.8 L815.9 822.8 L816 822.8 L816.1 822.8 L816.2 825.1 L816.3 825.1 L816.4 825.1 L816.5 825.1 L816.6 827.4 L816.7 827.4 L816.8 827.4 L817 827.4 L817.1 829.7 L817.2 829.7 L817.3 829.7 L817.4 829.7 L817.5 831.9 L817.6 831.9 L817.7 831.9 L817.8 831.9 L817.9 834.2 L818 834.2 L818.1 834.2 L818.2 834.2 L818.3 836.5 L818.4 836.5 L818.6 836.5 L818.7 838.2 L818.8 838.2 L818.9 838.2 L819 838.2 L819.1 840.8 L819.2 840.8 L819.3 840.8 L819.4 840.8 L819.5 843.5 L819.6 843.5 L819.7 843.5 L819.8 843.5 L819.9 846.1 L820 846.1 L820.1 846.1 L820.2 846.1 L820.3 848.8 L820.4 848.8 L820.5 848.8 L820.6 848.8 L820.7 851.4 L820.9 851.4 L821 851.4 L821.1 851.4 L821.2 854 L821.3 854 L821.4 854 L821.5 854 L821.6 856.6 L821.7 856.6 L821.8 857.9 L821.9 857.9 L822 857.9 L822.1 857.9 L822.2 857.9 L822.3 857.9 L822.4 857.9 L822.5 857.9 L822.6 857.9 L822.7 857.9 L822.8 859.7" fill="none" stroke="none" marker-start="url(#mPSO)" marker-mid="url(#mPSO)" marker-end="url(#mPSO)"/>
<path d="M121.7 651.2 L192.1 656.1 L233.2 671.9 L262.4 671.9 L285 672.8 L303.6 674.6 L319.2 680.8 L332.8 680.8 L344.7 683.6 L355.4 686.4 L365.1 686.7 L373.9 689.1 L382 689.1 L389.6 689.8 L403.1 689.8 L409.3 690.7 L420.5 690.7 L425.8 691.6 L540.6 691.6 L542.2 697.8 L551.4 697.8 L552.9 702.4 L567.7 702.4 L569 709.8 L694.3 709.8 L694.7 728 L697.2 728 L697.5 734.2 L796.1 734.2 L796.3 745.6 L802.5 745.6 L802.7 774.3 L808.5 774.3 L808.7 776.5 L812 776.5 L812.1 791.9 L815.3 791.9 L815.4 807.3 L817.5 807.3 L817.6 825.8 L819.6 825.8 L819.7 847.4 L821.2 847.4 L821.3 869 L822.7 869 L822.8 888.1" fill="none" stroke="#8F8F8F" stroke-width="2.0" stroke-linejoin="round"/>
<path d="M510.3 691.6H540.6M542.2 697.8H551.4M552.9 702.4H567.7M569 709.8H694.3M697.5 734.2H796.1M796.3 745.6H802.5M802.7 774.3H808.5M808.7 776.5H812M812.1 791.9H815.3" fill="none" stroke="#999999" stroke-width="7.3" stroke-linecap="square"/>
<path d="M510.3 691.6H540.6M542.2 697.8H551.4M552.9 702.4H567.7M569 709.8H694.3M697.5 734.2H796.1M796.3 745.6H802.5M802.7 774.3H808.5M808.7 776.5H812M812.1 791.9H815.3" fill="none" stroke="#A2A2A2" stroke-width="5.3" stroke-linecap="square"/>
<path d="M121.7 651.2 L192.1 656.1 L233.2 671.9 L262.4 671.9 L285 672.8 L303.6 674.6 L319.2 680.8 L332.8 680.8 L344.7 683.6 L355.4 686.4 L365.1 686.7 L373.9 689.1 L382 689.1 L389.6 689.8 L396.6 689.8 L403.1 689.8 L409.3 690.7 L415.1 690.7 L420.5 690.7 L425.8 691.6 L430.7 691.6 L435.4 691.6 L439.9 691.6 L444.3 691.6 L448.4 691.6 L452.4 691.6 L456.2 691.6 L459.9 691.6 L463.5 691.6 L466.9 691.6 L470.2 691.6 L473.5 691.6 L476.6 691.6 L479.6 691.6 L482.5 691.6 L485.4 691.6 L488.2 691.6 L490.9 691.6 L493.5 691.6 L496.1 691.6 L498.6 691.6 L501.1 691.6 L503.4 691.6 L505.8 691.6 L508.1 691.6 L694.7 728 L695 728 L695.4 728 L695.8 728 L696.1 728 L696.5 728 L696.8 728 L697.2 728 L815.4 807.3 L815.5 807.3 L815.7 807.3 L815.8 807.3 L815.9 807.3 L816 807.3 L816.1 807.3 L816.2 807.3 L816.3 807.3 L816.4 807.3 L816.5 807.3 L816.6 807.3 L816.7 807.3 L816.8 807.3 L817 807.3 L817.1 807.3 L817.2 807.3 L817.3 807.3 L817.4 807.3 L817.5 807.3 L817.6 825.8 L817.7 825.8 L817.8 825.8 L817.9 825.8 L818 825.8 L818.1 825.8 L818.2 825.8 L818.3 825.8 L818.4 825.8 L818.6 825.8 L818.7 825.8 L818.8 825.8 L818.9 825.8 L819 825.8 L819.1 825.8 L819.2 825.8 L819.3 825.8 L819.4 825.8 L819.5 825.8 L819.6 825.8 L819.7 847.4 L819.8 847.4 L819.9 847.4 L820 847.4 L820.1 847.4 L820.2 847.4 L820.3 847.4 L820.4 847.4 L820.5 847.4 L820.6 847.4 L820.7 847.4 L820.9 847.4 L821 847.4 L821.1 847.4 L821.2 847.4 L821.3 869 L821.4 869 L821.5 869 L821.6 869 L821.7 869 L821.8 869 L821.9 869 L822 869 L822.1 869 L822.2 869 L822.3 869 L822.4 869 L822.5 869 L822.6 869 L822.7 869 L822.8 888.1" fill="none" stroke="none" marker-start="url(#mGA)" marker-mid="url(#mGA)" marker-end="url(#mGA)"/>
<path d="M121.7 650.6 L192.1 653.1 L233.2 653.1 L262.4 655.5 L285 658.3 L303.6 659.2 L319.2 661.4 L332.8 663.2 L344.7 664.2 L355.4 664.5 L365.1 665.1 L373.9 666.3 L382 667.2 L389.6 668.8 L396.6 669.7 L403.1 669.7 L409.3 670.6 L415.1 671.6 L420.5 672.2 L425.8 672.8 L430.7 673.7 L435.4 674.6 L822.8 674.6" fill="none" stroke="#FFB900" stroke-width="2.3" stroke-linejoin="round"/>
<path d="M510.3 674.6 L822.8 674.6" fill="none" stroke="none" marker-start="url(#fFA)" marker-mid="url(#fFA)" marker-end="url(#fFA)"/>
<path d="M510.3 674.6H822.8" fill="none" stroke="#FFB800" stroke-width="7.8" stroke-linecap="butt"/>
<path d="M510.3 674.6H822.8" fill="none" stroke="#FFBF00" stroke-width="5.8" stroke-linecap="butt"/>
<path d="M121.7 650.6 L192.1 653.1 L233.2 653.1 L262.4 655.5 L285 658.3 L303.6 659.2 L319.2 661.4 L332.8 663.2 L344.7 664.2 L355.4 664.5 L365.1 665.1 L373.9 666.3 L382 667.2 L389.6 668.8 L396.6 669.7 L403.1 669.7 L409.3 670.6 L415.1 671.6 L420.5 672.2 L425.8 672.8 L430.7 673.7 L435.4 674.6 L439.9 674.6 L444.3 674.6 L448.4 674.6 L452.4 674.6 L456.2 674.6 L459.9 674.6 L463.5 674.6 L466.9 674.6 L470.2 674.6 L473.5 674.6 L476.6 674.6 L479.6 674.6 L482.5 674.6 L485.4 674.6 L488.2 674.6 L490.9 674.6 L493.5 674.6 L496.1 674.6 L498.6 674.6 L501.1 674.6 L503.4 674.6 L505.8 674.6 L508.1 674.6" fill="none" stroke="none" marker-start="url(#mFA)" marker-mid="url(#mFA)" marker-end="url(#mFA)"/>
<path d="M121.7 661.7 L192.1 662 L233.2 662.6 L262.4 663.2 L285 665.4 L303.6 668.2 L319.2 672.8 L332.8 674.6 L344.7 678 L355.4 679 L365.1 682.7 L373.9 685.1 L382 689.1 L389.6 694.1 L396.6 698.4 L403.1 698.4 L409.3 700.3 L822.8 700.3" fill="none" stroke="#1C4BBF" stroke-width="2.3" stroke-linejoin="round"/>
<path d="M510.3 700.3 L822.8 700.3" fill="none" stroke="none" marker-start="url(#fSCA)" marker-mid="url(#fSCA)" marker-end="url(#fSCA)"/>
<path d="M510.3 700.3H822.8" fill="none" stroke="#2256BE" stroke-width="7.8" stroke-linecap="butt"/>
<path d="M510.3 700.3H822.8" fill="none" stroke="#3B6AC6" stroke-width="5.8" stroke-linecap="butt"/>
<path d="M121.7 661.7 L192.1 662 L233.2 662.6 L262.4 663.2 L285 665.4 L303.6 668.2 L319.2 672.8 L332.8 674.6 L344.7 678 L355.4 679 L365.1 682.7 L373.9 685.1 L382 689.1 L389.6 694.1 L396.6 698.4 L403.1 698.4 L409.3 700.3 L415.1 700.3 L420.5 700.3 L425.8 700.3 L430.7 700.3 L435.4 700.3 L439.9 700.3 L444.3 700.3 L448.4 700.3 L452.4 700.3 L456.2 700.3 L459.9 700.3 L463.5 700.3 L466.9 700.3 L470.2 700.3 L473.5 700.3 L476.6 700.3 L479.6 700.3 L482.5 700.3 L485.4 700.3 L488.2 700.3 L490.9 700.3 L493.5 700.3 L496.1 700.3 L498.6 700.3 L501.1 700.3 L503.4 700.3 L505.8 700.3 L508.1 700.3" fill="none" stroke="none" marker-start="url(#mSCA)" marker-mid="url(#mSCA)" marker-end="url(#mSCA)"/>
<path d="M121.7 649.3 L192.1 769 L233.2 912.5 L262.4 941.5 L488.2 941.5 L490.9 971.7 L605 971.7 L605.9 984.1 L687.6 984.1 L688 1015.8 L791.6 1015.8 L791.7 1022.3 L822.8 1022.3" fill="none" stroke="#409414" stroke-width="2.4" stroke-linejoin="round"/>
<rect x="121.7" y="622.2" width="721.6" height="431.9" fill="none" stroke="#222" stroke-width="1.5"/>
<g font-size="20.0" text-anchor="end"><text x="104.8" y="628.8">1.E+02</text><text x="104.8" y="690.5">1.E+00</text><text x="104.8" y="752.2">1.E-02</text><text x="104.8" y="813.9">1.E-04</text><text x="104.8" y="875.6">1.E-06</text><text x="104.8" y="937.3">1.E-08</text><text x="104.8" y="999">1.E-10</text><text x="104.8" y="1060.7">1.E-12</text></g>
<g font-size="19.6" text-anchor="middle"><text x="121.7" y="1084.8">1.E+00</text><text x="355.4" y="1084.8">1.E+01</text><text x="589.1" y="1084.8">1.E+02</text><text x="822.8" y="1084.8">1.E+03</text></g>
<text x="480.6" y="1111.5" font-size="20.4" text-anchor="middle">Iteration Number</text>
<text transform="translate(32.1 831.6) rotate(-90)" font-size="20.4" text-anchor="middle">Objective Function Value</text>
<g font-size="20.4"><path d="M138.4 1137.8H182.1" stroke="#2A7AD0" stroke-width="2.2" stroke-dasharray="8 10.3" stroke-linecap="round" fill="none"/><text x="185.6" y="1144">MA</text><path d="M239.8 1137.8H284.6" stroke="#EF6A1A" stroke-width="2.2" fill="none"/><path d="M262.2 1137.8L262.2 1137.8" stroke="none" fill="none" marker-start="url(#mPSO)"/><text x="288.1" y="1144">PSO</text><path d="M345.8 1137.8H390.6" stroke="#8F8F8F" stroke-width="2.2" fill="none"/><path d="M368.2 1137.8L368.2 1137.8" stroke="none" fill="none" marker-start="url(#mGA)"/><text x="394.1" y="1144">GA</text><path d="M444 1137.8H488.8" stroke="#FFB900" stroke-width="2.2" fill="none"/><path d="M466.4 1137.8L466.4 1137.8" stroke="none" fill="none" marker-start="url(#mFA)"/><text x="492.3" y="1144">FA</text><path d="M539.4 1137.8H584.2" stroke="#1C4BBF" stroke-width="2.2" fill="none"/><path d="M561.8 1137.8L561.8 1137.8" stroke="none" fill="none" marker-start="url(#mSCA)"/><text x="587.7" y="1144">SCA</text><path d="M647.9 1137.8H692.7" stroke="#409414" stroke-width="2.2" fill="none"/><text x="696.2" y="1144">HSI-MA</text></g>
<text x="459" y="1189.5" font-size="37.5" text-anchor="middle">(c)</text>
</g>
<g>
<path d="M1027.3 671.7 L1097.7 672.6 L1138.9 672.9 L1168.2 674.4 L1190.9 675.1 L1209.4 677.2 L1225.1 679.1 L1238.6 679.1 L1250.6 679.7 L1261.3 681.2 L1271 683.7 L1279.8 686.2 L1288 689 L1295.5 691.8 L1302.5 694.2 L1309.1 696.7 L1315.2 699.8 L1321 702.9 L1326.5 705.4 L1331.7 708.1 L1336.7 710.6 L1341.4 713.4 L1345.9 716.8 L1350.3 723 L1354.4 730.7 L1358.4 743.1 L1362.2 764.7 L1365.9 835.8 L1369.5 856.3 L1372.9 856.3 L1376.3 857.8 L1382.6 857.8 L1385.7 864.9 L1391.5 864.9 L1394.3 874.2 L1414.2 874.2 L1416.4 878.2 L1424.9 878.2 L1426.9 881.6 L1445.1 881.6 L1446.7 892.7 L1628.5 892.7 L1628.8 897.1 L1729.3 897.1" fill="none" stroke="#2A7AD0" stroke-width="2.2" stroke-linejoin="round" stroke-dasharray="8 10.3" stroke-linecap="round"/>
<path d="M1027.3 674.4 L1097.7 677.2 L1138.9 692.7 L1168.2 692.7 L1190.9 697.6 L1209.4 697.6 L1225.1 698.9 L1326.5 698.9 L1331.7 699.5 L1354.4 699.5 L1358.4 700.3 L1376.3 700.3 L1379.5 700.9 L1394.3 700.9 L1397 701.4 L1409.5 701.4 L1411.9 701.8 L1422.8 701.8 L1424.9 702.1 L1434.5 702.1 L1436.4 702.5 L1445.1 702.5 L1446.7 702.8 L1454.6 702.8 L1456.1 703 L1463.3 703 L1464.7 703.3 L1471.3 703.3 L1472.6 703.5 L1478.8 703.5 L1480 703.7 L1482.3 703.7 L1483.5 703.8 L1487.9 703.8 L1489 714 L1494.3 714 L1495.3 714.8 L1500.3 714.8 L1501.2 715.5 L1505.9 715.5 L1506.8 716.2 L1511.3 716.2 L1512.1 716.8 L1520.4 716.8 L1521.2 719.3 L1526.5 719.3 L1527.3 719.9 L1532.4 719.9 L1533.1 720.5 L1537.9 720.5 L1538.5 721 L1542.4 721 L1543.1 721.4 L1543.7 721.4 L1544.3 737.2 L1545 748.7 L1550.4 748.7 L1551 749.4 L1556.2 749.4 L1556.7 750 L1561.6 750 L1562.1 750.7 L1566.8 750.7 L1567.3 751.3 L1571.7 751.3 L1572.1 751.8 L1576.3 751.8 L1576.8 752.4 L1580.8 752.4 L1581.3 752.9 L1581.7 752.9 L1582.1 753 L1584.7 753 L1585.1 760.4 L1587.2 760.4 L1587.6 764.7 L1595.1 764.7 L1595.5 765.1 L1602.4 765.1 L1602.8 765.4 L1609.3 765.4 L1609.6 765.7 L1615.7 765.7 L1616 766 L1621.7 766 L1622 766.3 L1627.4 766.3 L1627.7 766.5 L1632.8 766.5 L1633.1 766.8 L1637.9 766.8 L1638.2 767 L1642.8 767 L1643.1 767.2 L1647.5 767.2 L1647.7 767.4 L1651.9 767.4 L1652.1 767.6 L1656.2 767.6 L1656.4 767.8 L1656.6 767.8 L1656.8 767.8 L1663.4 767.8 L1663.6 772.2 L1668.2 772.2 L1668.4 772.3 L1672.7 772.3 L1672.9 772.5 L1677 772.5 L1677.2 772.7 L1681.2 772.7 L1681.4 772.9 L1685.2 772.9 L1685.4 773 L1689.1 773 L1689.2 773.2 L1692.8 773.2 L1692.9 773.3 L1696.3 773.3 L1696.5 773.5 L1699.8 773.5 L1699.9 773.6 L1703.1 773.6 L1703.3 773.7 L1706.4 773.7 L1706.5 773.9 L1709.5 773.9 L1709.6 774 L1709.8 774 L1710.2 774 L1710.4 777.7 L1711 777.7 L1711.1 792.6 L1711.7 792.6 L1711.8 800.9 L1712.2 800.9 L1712.3 807.6 L1712.7 807.6 L1712.8 814.2 L1713.4 814.2 L1713.5 815.5 L1714.1 815.5 L1714.2 816.7 L1714.8 816.7 L1714.9 817.9 L1715.5 817.9 L1715.6 819.2 L1716.2 819.2 L1716.3 820.4 L1716.8 820.4 L1716.9 828.1 L1717.3 828.1 L1717.5 835.8 L1718 835.8 L1718.1 838.4 L1718.7 838.4 L1718.8 840.8 L1719.4 840.8 L1719.5 843.3 L1720.1 843.3 L1720.2 845.8 L1720.7 845.8 L1720.8 848.2 L1721.4 848.2 L1721.5 852.6 L1722 852.6 L1722.1 857 L1722.7 857 L1722.8 861.3 L1723.3 861.3 L1723.4 865.6 L1724 865.6 L1724.1 869.9 L1724.7 869.9 L1724.8 872 L1725.5 872 L1725.6 874.2 L1726.2 874.2 L1726.3 876.4 L1726.9 876.4 L1727 878.5 L1727.1 878.5 L1727.2 879.1 L1727.7 879.1 L1727.8 882.4 L1728.2 882.4 L1728.3 885.7 L1728.7 885.7 L1728.8 888.9 L1729.2 888.9 L1729.3 892.1" fill="none" stroke="#EF6A1A" stroke-width="2.2" stroke-linejoin="round"/>
<path d="M1416.4 701.8H1422.8M1424.9 702.1H1434.5M1436.4 702.5H1445.1M1446.7 702.8H1454.6M1456.1 703H1463.3M1464.7 703.3H1471.3M1472.6 703.5H1478.8M1483.5 703.8H1487.9M1489 714H1494.3M1495.3 714.8H1500.3M1501.2 715.5H1505.9M1506.8 716.2H1511.3M1512.1 716.8H1520.4M1521.2 719.3H1526.5M1527.3 719.9H1532.4M1533.1 720.5H1537.9M1538.5 721H1542.4M1545 748.7H1550.4M1551 749.4H1556.2M1556.7 750H1561.6M1562.1 750.7H1566.8M1567.3 751.3H1571.7M1572.1 751.8H1576.3M1576.8 752.4H1580.8M1587.6 764.7H1595.1M1595.5 765.1H1602.4M1602.8 765.4H1609.3M1609.6 765.7H1615.7M1616 766H1621.7M1622 766.3H1627.4M1627.7 766.5H1632.8M1633.1 766.8H1637.9M1638.2 767H1642.8M1643.1 767.2H1647.5M1647.7 767.4H1651.9M1652.1 767.6H1656.2M1656.8 767.8H1663.4M1663.6 772.2H1668.2M1668.4 772.3H1672.7M1672.9 772.5H1677M1677.2 772.7H1681.2M1681.4 772.9H1685.2M1685.4 773H1689.1M1689.2 773.2H1692.8M1692.9 773.3H1696.3M1696.5 773.5H1699.8M1699.9 773.6H1703.1M1703.3 773.7H1706.4M1706.5 773.9H1709.5" fill="none" stroke="#EB620F" stroke-width="7.6" stroke-linecap="round"/>
<path d="M1416.4 701.8H1422.8M1424.9 702.1H1434.5M1436.4 702.5H1445.1M1446.7 702.8H1454.6M1456.1 703H1463.3M1464.7 703.3H1471.3M1472.6 703.5H1478.8M1483.5 703.8H1487.9M1489 714H1494.3M1495.3 714.8H1500.3M1501.2 715.5H1505.9M1506.8 716.2H1511.3M1512.1 716.8H1520.4M1521.2 719.3H1526.5M1527.3 719.9H1532.4M1533.1 720.5H1537.9M1538.5 721H1542.4M1545 748.7H1550.4M1551 749.4H1556.2M1556.7 750H1561.6M1562.1 750.7H1566.8M1567.3 751.3H1571.7M1572.1 751.8H1576.3M1576.8 752.4H1580.8M1587.6 764.7H1595.1M1595.5 765.1H1602.4M1602.8 765.4H1609.3M1609.6 765.7H1615.7M1616 766H1621.7M1622 766.3H1627.4M1627.7 766.5H1632.8M1633.1 766.8H1637.9M1638.2 767H1642.8M1643.1 767.2H1647.5M1647.7 767.4H1651.9M1652.1 767.6H1656.2M1656.8 767.8H1663.4M1663.6 772.2H1668.2M1668.4 772.3H1672.7M1672.9 772.5H1677M1677.2 772.7H1681.2M1681.4 772.9H1685.2M1685.4 773H1689.1M1689.2 773.2H1692.8M1692.9 773.3H1696.3M1696.5 773.5H1699.8M1699.9 773.6H1703.1M1703.3 773.7H1706.4M1706.5 773.9H1709.5" fill="none" stroke="#EE7428" stroke-width="5.6" stroke-linecap="round"/>
<path d="M1027.3 674.4 L1097.7 677.2 L1138.9 692.7 L1168.2 692.7 L1190.9 697.6 L1209.4 697.6 L1225.1 698.9 L1238.6 698.9 L1250.6 698.9 L1261.3 698.9 L1271 698.9 L1279.8 698.9 L1288 698.9 L1295.5 698.9 L1302.5 698.9 L1309.1 698.9 L1315.2 698.9 L1321 698.9 L1326.5 698.9 L1331.7 699.5 L1336.7 699.5 L1341.4 699.5 L1345.9 699.5 L1350.3 699.5 L1354.4 699.5 L1358.4 700.3 L1362.2 700.3 L1365.9 700.3 L1369.5 700.3 L1372.9 700.3 L1376.3 700.3 L1379.5 700.9 L1382.6 700.9 L1385.7 700.9 L1388.6 700.9 L1391.5 700.9 L1394.3 700.9 L1397 701.4 L1399.6 701.4 L1402.2 701.4 L1404.7 701.4 L1407.1 701.4 L1409.5 701.4 L1411.9 701.8 L1414.2 701.8 L1480 703.7 L1481.1 703.7 L1482.3 703.7 L1543.1 721.4 L1543.7 721.4 L1544.3 737.2 L1581.3 752.9 L1581.7 752.9 L1582.1 753 L1582.6 753 L1583 753 L1583.4 753 L1583.8 753 L1584.3 753 L1584.7 753 L1585.1 760.4 L1585.5 760.4 L1585.9 760.4 L1586.4 760.4 L1586.8 760.4 L1587.2 760.4 L1656.4 767.8 L1656.6 767.8 L1709.6 774 L1709.8 774 L1709.9 774 L1710 774 L1710.1 774 L1710.2 774 L1710.4 777.7 L1710.5 777.7 L1710.6 777.7 L1710.7 777.7 L1710.9 777.7 L1711 777.7 L1711.1 792.6 L1711.2 792.6 L1711.3 792.6 L1711.5 792.6 L1711.6 792.6 L1711.7 792.6 L1711.8 800.9 L1711.9 800.9 L1712.1 800.9 L1712.2 800.9 L1712.3 807.6 L1712.4 807.6 L1712.5 807.6 L1712.7 807.6 L1712.8 814.2 L1712.9 814.2 L1713 814.2 L1713.1 814.2 L1713.3 814.2 L1713.4 814.2 L1713.5 815.5 L1713.6 815.5 L1713.7 815.5 L1713.9 815.5 L1714 815.5 L1714.1 815.5 L1714.2 816.7 L1714.3 816.7 L1714.4 816.7 L1714.6 816.7 L1714.7 816.7 L1714.8 816.7 L1714.9 817.9 L1715 817.9 L1715.1 817.9 L1715.3 817.9 L1715.4 817.9 L1715.5 817.9 L1715.6 819.2 L1715.7 819.2 L1715.8 819.2 L1716 819.2 L1716.1 819.2 L1716.2 819.2 L1716.3 820.4 L1716.4 820.4 L1716.5 820.4 L1716.7 820.4 L1716.8 820.4 L1716.9 828.1 L1717 828.1 L1717.1 828.1 L1717.2 828.1 L1717.3 828.1 L1717.5 835.8 L1717.6 835.8 L1717.7 835.8 L1717.8 835.8 L1717.9 835.8 L1718 835.8 L1718.1 838.4 L1718.3 838.4 L1718.4 838.4 L1718.5 838.4 L1718.6 838.4 L1718.7 838.4 L1718.8 840.8 L1718.9 840.8 L1719 840.8 L1719.2 840.8 L1719.3 840.8 L1719.4 840.8 L1719.5 843.3 L1719.6 843.3 L1719.7 843.3 L1719.8 843.3 L1719.9 843.3 L1720.1 843.3 L1720.2 845.8 L1720.3 845.8 L1720.4 845.8 L1720.5 845.8 L1720.6 845.8 L1720.7 845.8 L1720.8 848.2 L1720.9 848.2 L1721 848.2 L1721.2 848.2 L1721.3 848.2 L1721.4 848.2 L1721.5 852.6 L1721.6 852.6 L1721.7 852.6 L1721.8 852.6 L1721.9 852.6 L1722 852.6 L1722.1 857 L1722.3 857 L1722.4 857 L1722.5 857 L1722.6 857 L1722.7 857 L1722.8 861.3 L1722.9 861.3 L1723 861.3 L1723.1 861.3 L1723.2 861.3 L1723.3 861.3 L1723.4 865.6 L1723.6 865.6 L1723.7 865.6 L1723.8 865.6 L1723.9 865.6 L1724 865.6 L1724.1 869.9 L1724.2 869.9 L1724.3 869.9 L1724.4 869.9 L1724.5 869.9 L1724.6 869.9 L1724.7 869.9 L1724.8 872 L1724.9 872 L1725 872 L1725.2 872 L1725.3 872 L1725.4 872 L1725.5 872 L1725.6 874.2 L1725.7 874.2 L1725.8 874.2 L1725.9 874.2 L1726 874.2 L1726.1 874.2 L1726.2 874.2 L1726.3 876.4 L1726.4 876.4 L1726.5 876.4 L1726.6 876.4 L1726.7 876.4 L1726.8 876.4 L1726.9 876.4 L1727 878.5 L1727.1 878.5 L1727.2 879.1 L1727.4 879.1 L1727.5 879.1 L1727.6 879.1 L1727.7 879.1 L1727.8 882.4 L1727.9 882.4 L1728 882.4 L1728.1 882.4 L1728.2 882.4 L1728.3 885.7 L1728.4 885.7 L1728.5 885.7 L1728.6 885.7 L1728.7 885.7 L1728.8 888.9 L1728.9 888.9 L1729 888.9 L1729.1 888.9 L1729.2 888.9 L1729.3 892.1" fill="none" stroke="none" marker-start="url(#mPSO)" marker-mid="url(#mPSO)" marker-end="url(#mPSO)"/>
<path d="M1027.3 677.2 L1097.7 694.2 L1138.9 694.9 L1168.2 702.9 L1190.9 704.7 L1209.4 707.8 L1225.1 710 L1238.6 712.5 L1250.6 717.1 L1261.3 719.3 L1271 720.8 L1279.8 721.8 L1309.1 721.8 L1315.2 729.8 L1321 733.8 L1326.5 736.6 L1331.7 740 L1336.7 740 L1341.4 743.1 L1345.9 750.2 L1369.5 750.2 L1372.9 764.7 L1467.4 764.7 L1468.7 766 L1498.3 766 L1499.3 770.9 L1590.4 770.9 L1590.8 776.5 L1594 776.5 L1594.3 777.7 L1628 777.7 L1628.3 783.6 L1630.7 783.6 L1631 793.2 L1666.5 793.2 L1666.7 801.2 L1677.2 801.2 L1677.4 807.1 L1683.8 807.1 L1683.9 807.7 L1690 807.7 L1690.1 808.3 L1695.8 808.3 L1695.9 808.8 L1701.3 808.8 L1701.4 809.3 L1706.5 809.3 L1706.6 809.8 L1711.5 809.8 L1711.6 810.2 L1716.2 810.2 L1716.3 810.6 L1720.7 810.6 L1720.8 811.1 L1721.3 811.1 L1721.4 811.1 L1721.8 811.1 L1721.9 818.4 L1722.4 818.4 L1722.5 825.6 L1722.9 825.6 L1723 832.8 L1723.4 832.8 L1723.6 836.7 L1724 836.7 L1724.1 840.5 L1724.5 840.5 L1724.6 844.4 L1725 844.4 L1725.2 848.2 L1725.6 848.2 L1725.7 852.1 L1726.1 852.1 L1726.2 856 L1726.6 856 L1726.7 859.8 L1727.1 859.8 L1727.2 863.7 L1727.7 863.7 L1727.8 866.4 L1728.2 866.4 L1728.3 869.1 L1728.7 869.1 L1728.8 871.8 L1729.2 871.8 L1729.3 874.5" fill="none" stroke="#8F8F8F" stroke-width="2.0" stroke-linejoin="round"/>
<path d="M1416.4 764.7H1467.4M1468.7 766H1498.3M1499.3 770.9H1590.4M1590.8 776.5H1594M1594.3 777.7H1628M1631 793.2H1666.5M1666.7 801.2H1677.2M1677.4 807.1H1683.8M1683.9 807.7H1690M1690.1 808.3H1695.8M1695.9 808.8H1701.3M1701.4 809.3H1706.5M1706.6 809.8H1711.5M1711.6 810.2H1716.2M1716.3 810.6H1720.7" fill="none" stroke="#999999" stroke-width="7.3" stroke-linecap="square"/>
<path d="M1416.4 764.7H1467.4M1468.7 766H1498.3M1499.3 770.9H1590.4M1590.8 776.5H1594M1594.3 777.7H1628M1631 793.2H1666.5M1666.7 801.2H1677.2M1677.4 807.1H1683.8M1683.9 807.7H1690M1690.1 808.3H1695.8M1695.9 808.8H1701.3M1701.4 809.3H1706.5M1706.6 809.8H1711.5M1711.6 810.2H1716.2M1716.3 810.6H1720.7" fill="none" stroke="#A2A2A2" stroke-width="5.3" stroke-linecap="square"/>
<path d="M1027.3 677.2 L1097.7 694.2 L1138.9 694.9 L1168.2 702.9 L1190.9 704.7 L1209.4 707.8 L1225.1 710 L1238.6 712.5 L1250.6 717.1 L1261.3 719.3 L1271 720.8 L1279.8 721.8 L1288 721.8 L1295.5 721.8 L1302.5 721.8 L1309.1 721.8 L1315.2 729.8 L1321 733.8 L1326.5 736.6 L1331.7 740 L1336.7 740 L1341.4 743.1 L1345.9 750.2 L1350.3 750.2 L1354.4 750.2 L1358.4 750.2 L1362.2 750.2 L1365.9 750.2 L1369.5 750.2 L1372.9 764.7 L1376.3 764.7 L1379.5 764.7 L1382.6 764.7 L1385.7 764.7 L1388.6 764.7 L1391.5 764.7 L1394.3 764.7 L1397 764.7 L1399.6 764.7 L1402.2 764.7 L1404.7 764.7 L1407.1 764.7 L1409.5 764.7 L1411.9 764.7 L1414.2 764.7 L1628.3 783.6 L1628.5 783.6 L1628.8 783.6 L1629.1 783.6 L1629.4 783.6 L1629.6 783.6 L1629.9 783.6 L1630.2 783.6 L1630.4 783.6 L1630.7 783.6 L1720.8 811.1 L1720.9 811.1 L1721 811.1 L1721.2 811.1 L1721.3 811.1 L1721.4 811.1 L1721.5 811.1 L1721.6 811.1 L1721.7 811.1 L1721.8 811.1 L1721.9 818.4 L1722 818.4 L1722.1 818.4 L1722.3 818.4 L1722.4 818.4 L1722.5 825.6 L1722.6 825.6 L1722.7 825.6 L1722.8 825.6 L1722.9 825.6 L1723 832.8 L1723.1 832.8 L1723.2 832.8 L1723.3 832.8 L1723.4 832.8 L1723.6 836.7 L1723.7 836.7 L1723.8 836.7 L1723.9 836.7 L1724 836.7 L1724.1 840.5 L1724.2 840.5 L1724.3 840.5 L1724.4 840.5 L1724.5 840.5 L1724.6 844.4 L1724.7 844.4 L1724.8 844.4 L1724.9 844.4 L1725 844.4 L1725.2 848.2 L1725.3 848.2 L1725.4 848.2 L1725.5 848.2 L1725.6 848.2 L1725.7 852.1 L1725.8 852.1 L1725.9 852.1 L1726 852.1 L1726.1 852.1 L1726.2 856 L1726.3 856 L1726.4 856 L1726.5 856 L1726.6 856 L1726.7 859.8 L1726.8 859.8 L1726.9 859.8 L1727 859.8 L1727.1 859.8 L1727.2 863.7 L1727.4 863.7 L1727.5 863.7 L1727.6 863.7 L1727.7 863.7 L1727.8 866.4 L1727.9 866.4 L1728 866.4 L1728.1 866.4 L1728.2 866.4 L1728.3 869.1 L1728.4 869.1 L1728.5 869.1 L1728.6 869.1 L1728.7 869.1 L1728.8 871.8 L1728.9 871.8 L1729 871.8 L1729.1 871.8 L1729.2 871.8 L1729.3 874.5" fill="none" stroke="none" marker-start="url(#mGA)" marker-mid="url(#mGA)" marker-end="url(#mGA)"/>
<path d="M1027.3 680.6 L1097.7 680.9 L1138.9 682.2 L1168.2 682.2 L1190.9 685.3 L1209.4 688.1 L1225.1 689.9 L1238.6 690.8 L1250.6 691.8 L1261.3 692.4 L1288 692.4 L1295.5 693 L1729.3 693" fill="none" stroke="#FFB900" stroke-width="2.3" stroke-linejoin="round"/>
<path d="M1416.4 693 L1729.3 693" fill="none" stroke="none" marker-start="url(#fFA)" marker-mid="url(#fFA)" marker-end="url(#fFA)"/>
<path d="M1416.4 693H1729.3" fill="none" stroke="#FFB800" stroke-width="7.8" stroke-linecap="butt"/>
<path d="M1416.4 693H1729.3" fill="none" stroke="#FFBF00" stroke-width="5.8" stroke-linecap="butt"/>
<path d="M1027.3 680.6 L1097.7 680.9 L1138.9 682.2 L1168.2 682.2 L1190.9 685.3 L1209.4 688.1 L1225.1 689.9 L1238.6 690.8 L1250.6 691.8 L1261.3 692.4 L1271 692.4 L1279.8 692.4 L1288 692.4 L1295.5 693 L1302.5 693 L1309.1 693 L1315.2 693 L1321 693 L1326.5 693 L1331.7 693 L1336.7 693 L1341.4 693 L1345.9 693 L1350.3 693 L1354.4 693 L1358.4 693 L1362.2 693 L1365.9 693 L1369.5 693 L1372.9 693 L1376.3 693 L1379.5 693 L1382.6 693 L1385.7 693 L1388.6 693 L1391.5 693 L1394.3 693 L1397 693 L1399.6 693 L1402.2 693 L1404.7 693 L1407.1 693 L1409.5 693 L1411.9 693 L1414.2 693" fill="none" stroke="none" marker-start="url(#mFA)" marker-mid="url(#mFA)" marker-end="url(#mFA)"/>
<path d="M1027.3 670.4 L1097.7 671 L1138.9 671.4 L1168.2 672.6 L1190.9 674.1 L1209.4 676.3 L1225.1 677.2 L1238.6 677.2 L1250.6 678.2 L1261.3 679.1 L1271 679.1 L1279.8 680.6 L1288 681.2 L1295.5 681.6 L1729.3 681.6" fill="none" stroke="#1C4BBF" stroke-width="2.3" stroke-linejoin="round"/>
<path d="M1416.4 681.6 L1729.3 681.6" fill="none" stroke="none" marker-start="url(#fSCA)" marker-mid="url(#fSCA)" marker-end="url(#fSCA)"/>
<path d="M1416.4 681.6H1729.3" fill="none" stroke="#2256BE" stroke-width="7.8" stroke-linecap="butt"/>
<path d="M1416.4 681.6H1729.3" fill="none" stroke="#3B6AC6" stroke-width="5.8" stroke-linecap="butt"/>
<path d="M1027.3 670.4 L1097.7 671 L1138.9 671.4 L1168.2 672.6 L1190.9 674.1 L1209.4 676.3 L1225.1 677.2 L1238.6 677.2 L1250.6 678.2 L1261.3 679.1 L1271 679.1 L1279.8 680.6 L1288 681.2 L1295.5 681.6 L1302.5 681.6 L1309.1 681.6 L1315.2 681.6 L1321 681.6 L1326.5 681.6 L1331.7 681.6 L1336.7 681.6 L1341.4 681.6 L1345.9 681.6 L1350.3 681.6 L1354.4 681.6 L1358.4 681.6 L1362.2 681.6 L1365.9 681.6 L1369.5 681.6 L1372.9 681.6 L1376.3 681.6 L1379.5 681.6 L1382.6 681.6 L1385.7 681.6 L1388.6 681.6 L1391.5 681.6 L1394.3 681.6 L1397 681.6 L1399.6 681.6 L1402.2 681.6 L1404.7 681.6 L1407.1 681.6 L1409.5 681.6 L1411.9 681.6 L1414.2 681.6" fill="none" stroke="none" marker-start="url(#mSCA)" marker-mid="url(#mSCA)" marker-end="url(#mSCA)"/>
<path d="M1027.3 669.8 L1097.7 757 L1138.9 820.4 L1168.2 917.8 L1190.9 933.9 L1225.1 933.9 L1238.6 941.9 L1302.5 941.9 L1309.1 943.8 L1321 943.8 L1326.5 989.2 L1331.7 992 L1711 992 L1711.1 998.8 L1713.9 998.8 L1714 1029.7 L1729.3 1029.7" fill="none" stroke="#409414" stroke-width="2.4" stroke-linejoin="round"/>
<rect x="1027.3" y="622.5" width="723.4" height="432.9" fill="none" stroke="#222" stroke-width="1.5"/>
<g font-size="20.0" text-anchor="end"><text x="1008.9" y="629.1">1.E+03</text><text x="1008.9" y="690.9">1.E+01</text><text x="1008.9" y="752.8">1.E-01</text><text x="1008.9" y="814.6">1.E-03</text><text x="1008.9" y="876.5">1.E-05</text><text x="1008.9" y="938.3">1.E-07</text><text x="1008.9" y="1000.1">1.E-09</text><text x="1008.9" y="1062">1.E-11</text></g>
<g font-size="19.6" text-anchor="middle"><text x="1027.3" y="1085.9">1.E+00</text><text x="1261.3" y="1085.9">1.E+01</text><text x="1495.3" y="1085.9">1.E+02</text><text x="1729.3" y="1085.9">1.E+03</text></g>
<text x="1390.4" y="1113.1" font-size="20.4" text-anchor="middle">Iteration Number</text>
<text transform="translate(933.8 843.4) rotate(-90)" font-size="20.4" text-anchor="middle">Objective Function Value</text>
<g font-size="20.4"><path d="M1040.5 1137.8H1084.2" stroke="#2A7AD0" stroke-width="2.2" stroke-dasharray="8 10.3" stroke-linecap="round" fill="none"/><text x="1087.7" y="1144">MA</text><path d="M1142 1137.8H1186.8" stroke="#EF6A1A" stroke-width="2.2" fill="none"/><path d="M1164.4 1137.8L1164.4 1137.8" stroke="none" fill="none" marker-start="url(#mPSO)"/><text x="1190.3" y="1144">PSO</text><path d="M1249.2 1137.8H1294" stroke="#8F8F8F" stroke-width="2.2" fill="none"/><path d="M1271.6 1137.8L1271.6 1137.8" stroke="none" fill="none" marker-start="url(#mGA)"/><text x="1297.5" y="1144">GA</text><path d="M1347.5 1137.8H1392.3" stroke="#FFB900" stroke-width="2.2" fill="none"/><path d="M1369.9 1137.8L1369.9 1137.8" stroke="none" fill="none" marker-start="url(#mFA)"/><text x="1395.8" y="1144">FA</text><path d="M1442.8 1137.8H1487.6" stroke="#1C4BBF" stroke-width="2.2" fill="none"/><path d="M1465.2 1137.8L1465.2 1137.8" stroke="none" fill="none" marker-start="url(#mSCA)"/><text x="1491.1" y="1144">SCA</text><path d="M1551.7 1137.8H1596.5" stroke="#409414" stroke-width="2.2" fill="none"/><text x="1600" y="1144">HSI-MA</text></g>
<text x="1357.2" y="1189.5" font-size="37.5" text-anchor="middle">(d)</text>
</g>
<g>
<path d="M109.3 1266.3 L181 1268.2 L223 1270.1 L252.8 1270.8 L275.9 1272.3 L294.7 1273.4 L310.7 1275 L324.5 1276.5 L336.7 1278.3 L347.6 1279.8 L357.5 1281.3 L366.5 1282.8 L374.8 1285.1 L382.4 1288.1 L389.6 1294.1 L396.2 1299.8 L402.5 1305.4 L408.4 1311 L414 1316.7 L419.3 1322.3 L424.4 1327.9 L429.2 1331.7 L433.8 1335.5 L438.2 1340 L442.4 1343.7 L446.5 1347.5 L450.4 1352.4 L454.2 1358 L457.8 1363.6 L461.3 1369.3 L464.7 1399.3 L468 1485.8 L471.2 1485.8 L474.3 1490.7 L480.2 1490.7 L483 1506.4 L525.9 1506.4 L527.7 1514.3 L561.5 1514.3 L562.8 1519.2 L683.6 1519.2 L684 1528.6 L770.1 1528.6 L770.3 1535.8 L824.2 1535.8" fill="none" stroke="#2A7AD0" stroke-width="2.2" stroke-linejoin="round" stroke-dasharray="8 10.3" stroke-linecap="round"/>
<path d="M109.3 1261 L181 1265.6 L223 1270.1 L252.8 1270.8 L275.9 1285.5 L294.7 1285.5 L310.7 1287 L324.5 1287.7 L336.7 1287.7 L347.6 1288.5 L357.5 1288.5 L366.5 1290.4 L374.8 1290.4 L382.4 1301.6 L389.6 1303.5 L457.8 1303.5 L461.3 1305 L474.3 1305 L477.3 1306.5 L500.9 1306.5 L503.3 1309.9 L507.8 1309.9 L509.9 1311.4 L514.2 1311.4 L516.2 1313.3 L547.5 1313.3 L549 1314.4 L573.8 1314.4 L575 1316.7 L634.5 1316.7 L635.2 1318.5 L660.2 1318.5 L660.7 1323.1 L716.7 1323.1 L717 1330.2 L756.5 1330.2 L756.7 1341.5 L757.7 1341.5 L757.9 1344.6 L758.9 1344.6 L759.1 1347.7 L760 1347.7 L760.2 1350.8 L761.2 1350.8 L761.4 1353.9 L762.1 1353.9 L762.3 1356.4 L763.1 1356.4 L763.3 1358.8 L764 1358.8 L764.2 1361.3 L764.4 1361.8 L789.8 1361.8 L789.9 1366.6 L790.6 1366.6 L790.8 1370.4 L791.5 1370.4 L791.6 1374.1 L792.3 1374.1 L792.5 1377.8 L792.6 1377.8 L792.8 1379 L793.9 1379 L794 1380.3 L795.1 1380.3 L795.3 1381.6 L796.3 1381.6 L796.5 1382.9 L797.6 1382.9 L797.7 1384.1 L798.8 1384.1 L798.9 1385.4 L799.9 1385.4 L800.1 1386.6 L801.1 1386.6 L801.2 1387.8 L801.8 1387.8 L801.9 1388.4 L802.8 1388.4 L802.9 1390.2 L803.8 1390.2 L803.9 1391.9 L804.8 1391.9 L804.9 1393.6 L805.8 1393.6 L805.9 1395.3 L806.8 1395.3 L806.9 1397 L807.3 1397 L807.4 1397.8 L808.2 1397.8 L808.4 1402.1 L809.2 1402.1 L809.3 1406.3 L810.1 1406.3 L810.3 1410.5 L810.9 1410.5 L811 1413.6 L812 1413.6 L812.1 1415.2 L813.2 1415.2 L813.3 1416.8 L814.3 1416.8 L814.4 1418.4 L815.5 1418.4 L815.6 1420 L816.6 1420 L816.7 1421.5 L817.7 1421.5 L817.8 1423 L818.8 1423 L818.9 1424.7 L819.9 1424.7 L820 1426.3 L820.9 1426.3 L821 1428 L822 1428 L822.1 1429.6 L823.1 1429.6 L823.2 1431.2 L824.1 1431.2 L824.2 1432.8" fill="none" stroke="#EF6A1A" stroke-width="2.2" stroke-linejoin="round"/>
<path d="M509.9 1311.4H514.2M516.2 1313.3H547.5M549 1314.4H573.8M575 1316.7H634.5M635.2 1318.5H660.2M660.7 1323.1H716.7M717 1330.2H756.5M764.4 1361.8H789.8" fill="none" stroke="#EB620F" stroke-width="7.6" stroke-linecap="round"/>
<path d="M509.9 1311.4H514.2M516.2 1313.3H547.5M549 1314.4H573.8M575 1316.7H634.5M635.2 1318.5H660.2M660.7 1323.1H716.7M717 1330.2H756.5M764.4 1361.8H789.8" fill="none" stroke="#EE7428" stroke-width="5.6" stroke-linecap="round"/>
<path d="M109.3 1261 L181 1265.6 L223 1270.1 L252.8 1270.8 L275.9 1285.5 L294.7 1285.5 L310.7 1287 L324.5 1287.7 L336.7 1287.7 L347.6 1288.5 L357.5 1288.5 L366.5 1290.4 L374.8 1290.4 L382.4 1301.6 L389.6 1303.5 L396.2 1303.5 L402.5 1303.5 L408.4 1303.5 L414 1303.5 L419.3 1303.5 L424.4 1303.5 L429.2 1303.5 L433.8 1303.5 L438.2 1303.5 L442.4 1303.5 L446.5 1303.5 L450.4 1303.5 L454.2 1303.5 L457.8 1303.5 L461.3 1305 L464.7 1305 L468 1305 L471.2 1305 L474.3 1305 L477.3 1306.5 L480.2 1306.5 L483 1306.5 L485.8 1306.5 L488.5 1306.5 L491.1 1306.5 L493.6 1306.5 L496.1 1306.5 L498.6 1306.5 L500.9 1306.5 L503.3 1309.9 L505.5 1309.9 L507.8 1309.9 L756.7 1341.5 L756.9 1341.5 L757.1 1341.5 L757.3 1341.5 L757.5 1341.5 L757.7 1341.5 L757.9 1344.6 L758.1 1344.6 L758.3 1344.6 L758.5 1344.6 L758.7 1344.6 L758.9 1344.6 L759.1 1347.7 L759.3 1347.7 L759.5 1347.7 L759.7 1347.7 L759.9 1347.7 L760 1347.7 L760.2 1350.8 L760.4 1350.8 L760.6 1350.8 L760.8 1350.8 L761 1350.8 L761.2 1350.8 L761.4 1353.9 L761.6 1353.9 L761.8 1353.9 L762 1353.9 L762.1 1353.9 L762.3 1356.4 L762.5 1356.4 L762.7 1356.4 L762.9 1356.4 L763.1 1356.4 L763.3 1358.8 L763.5 1358.8 L763.6 1358.8 L763.8 1358.8 L764 1358.8 L764.2 1361.3 L789.9 1366.6 L790.1 1366.6 L790.2 1366.6 L790.3 1366.6 L790.5 1366.6 L790.6 1366.6 L790.8 1370.4 L790.9 1370.4 L791.1 1370.4 L791.2 1370.4 L791.3 1370.4 L791.5 1370.4 L791.6 1374.1 L791.8 1374.1 L791.9 1374.1 L792.1 1374.1 L792.2 1374.1 L792.3 1374.1 L792.5 1377.8 L792.6 1377.8 L792.8 1379 L792.9 1379 L793 1379 L793.2 1379 L793.3 1379 L793.5 1379 L793.6 1379 L793.7 1379 L793.9 1379 L794 1380.3 L794.2 1380.3 L794.3 1380.3 L794.4 1380.3 L794.6 1380.3 L794.7 1380.3 L794.8 1380.3 L795 1380.3 L795.1 1380.3 L795.3 1381.6 L795.4 1381.6 L795.5 1381.6 L795.7 1381.6 L795.8 1381.6 L795.9 1381.6 L796.1 1381.6 L796.2 1381.6 L796.3 1381.6 L796.5 1382.9 L796.6 1382.9 L796.7 1382.9 L796.9 1382.9 L797 1382.9 L797.2 1382.9 L797.3 1382.9 L797.4 1382.9 L797.6 1382.9 L797.7 1384.1 L797.8 1384.1 L798 1384.1 L798.1 1384.1 L798.2 1384.1 L798.4 1384.1 L798.5 1384.1 L798.6 1384.1 L798.8 1384.1 L798.9 1385.4 L799 1385.4 L799.1 1385.4 L799.3 1385.4 L799.4 1385.4 L799.5 1385.4 L799.7 1385.4 L799.8 1385.4 L799.9 1385.4 L800.1 1386.6 L800.2 1386.6 L800.3 1386.6 L800.5 1386.6 L800.6 1386.6 L800.7 1386.6 L800.8 1386.6 L801 1386.6 L801.1 1386.6 L801.2 1387.8 L801.4 1387.8 L801.5 1387.8 L801.6 1387.8 L801.8 1387.8 L801.9 1388.4 L802 1388.4 L802.1 1388.4 L802.3 1388.4 L802.4 1388.4 L802.5 1388.4 L802.6 1388.4 L802.8 1388.4 L802.9 1390.2 L803 1390.2 L803.2 1390.2 L803.3 1390.2 L803.4 1390.2 L803.5 1390.2 L803.7 1390.2 L803.8 1390.2 L803.9 1391.9 L804 1391.9 L804.2 1391.9 L804.3 1391.9 L804.4 1391.9 L804.5 1391.9 L804.7 1391.9 L804.8 1391.9 L804.9 1393.6 L805 1393.6 L805.2 1393.6 L805.3 1393.6 L805.4 1393.6 L805.5 1393.6 L805.7 1393.6 L805.8 1393.6 L805.9 1395.3 L806 1395.3 L806.2 1395.3 L806.3 1395.3 L806.4 1395.3 L806.5 1395.3 L806.6 1395.3 L806.8 1395.3 L806.9 1397 L807 1397 L807.1 1397 L807.3 1397 L807.4 1397.8 L807.5 1397.8 L807.6 1397.8 L807.7 1397.8 L807.9 1397.8 L808 1397.8 L808.1 1397.8 L808.2 1397.8 L808.4 1402.1 L808.5 1402.1 L808.6 1402.1 L808.7 1402.1 L808.8 1402.1 L809 1402.1 L809.1 1402.1 L809.2 1402.1 L809.3 1406.3 L809.4 1406.3 L809.5 1406.3 L809.7 1406.3 L809.8 1406.3 L809.9 1406.3 L810 1406.3 L810.1 1406.3 L810.3 1410.5 L810.4 1410.5 L810.5 1410.5 L810.6 1410.5 L810.7 1410.5 L810.9 1410.5 L811 1413.6 L811.1 1413.6 L811.2 1413.6 L811.3 1413.6 L811.4 1413.6 L811.6 1413.6 L811.7 1413.6 L811.8 1413.6 L811.9 1413.6 L812 1413.6 L812.1 1415.2 L812.3 1415.2 L812.4 1415.2 L812.5 1415.2 L812.6 1415.2 L812.7 1415.2 L812.8 1415.2 L813 1415.2 L813.1 1415.2 L813.2 1415.2 L813.3 1416.8 L813.4 1416.8 L813.5 1416.8 L813.6 1416.8 L813.8 1416.8 L813.9 1416.8 L814 1416.8 L814.1 1416.8 L814.2 1416.8 L814.3 1416.8 L814.4 1418.4 L814.6 1418.4 L814.7 1418.4 L814.8 1418.4 L814.9 1418.4 L815 1418.4 L815.1 1418.4 L815.2 1418.4 L815.3 1418.4 L815.5 1418.4 L815.6 1420 L815.7 1420 L815.8 1420 L815.9 1420 L816 1420 L816.1 1420 L816.2 1420 L816.4 1420 L816.5 1420 L816.6 1420 L816.7 1421.5 L816.8 1421.5 L816.9 1421.5 L817 1421.5 L817.1 1421.5 L817.2 1421.5 L817.4 1421.5 L817.5 1421.5 L817.6 1421.5 L817.7 1421.5 L817.8 1423 L817.9 1423 L818 1423 L818.1 1423 L818.2 1423 L818.3 1423 L818.5 1423 L818.6 1423 L818.7 1423 L818.8 1423 L818.9 1424.7 L819 1424.7 L819.1 1424.7 L819.2 1424.7 L819.3 1424.7 L819.4 1424.7 L819.5 1424.7 L819.7 1424.7 L819.8 1424.7 L819.9 1424.7 L820 1426.3 L820.1 1426.3 L820.2 1426.3 L820.3 1426.3 L820.4 1426.3 L820.5 1426.3 L820.6 1426.3 L820.7 1426.3 L820.8 1426.3 L820.9 1426.3 L821 1428 L821.2 1428 L821.3 1428 L821.4 1428 L821.5 1428 L821.6 1428 L821.7 1428 L821.8 1428 L821.9 1428 L822 1428 L822.1 1429.6 L822.2 1429.6 L822.3 1429.6 L822.4 1429.6 L822.5 1429.6 L822.6 1429.6 L822.7 1429.6 L822.8 1429.6 L823 1429.6 L823.1 1429.6 L823.2 1431.2 L823.3 1431.2 L823.4 1431.2 L823.5 1431.2 L823.6 1431.2 L823.7 1431.2 L823.8 1431.2 L823.9 1431.2 L824 1431.2 L824.1 1431.2 L824.2 1432.8" fill="none" stroke="none" marker-start="url(#mPSO)" marker-mid="url(#mPSO)" marker-end="url(#mPSO)"/>
<path d="M109.3 1268.2 L181 1272.7 L223 1275.3 L252.8 1276.5 L275.9 1286.2 L294.7 1286.2 L310.7 1289.2 L324.5 1291.1 L336.7 1293.7 L347.6 1293.7 L357.5 1296.4 L389.6 1296.4 L396.2 1297.9 L402.5 1302.8 L424.4 1302.8 L429.2 1312.9 L438.2 1312.9 L442.4 1324.2 L450.4 1324.2 L454.2 1330.2 L468 1330.2 L471.2 1333.6 L483 1333.6 L485.8 1334.3 L500.9 1334.3 L503.3 1335.5 L516.2 1335.5 L518.2 1337.3 L533 1337.3 L534.7 1339.6 L554.7 1339.6 L556.1 1341.5 L571.5 1341.5 L572.7 1344.5 L662.7 1344.5 L663.2 1348.2 L729.1 1348.2 L729.4 1350.1 L778.8 1350.1 L779 1363.3 L780.1 1363.3 L780.3 1365.2 L781.4 1365.2 L781.5 1367 L782.6 1367 L782.8 1368.9 L783.8 1368.9 L784 1370.7 L784.1 1370.7 L784.3 1371.2 L785.3 1371.2 L785.5 1373.3 L786.5 1373.3 L786.7 1375.3 L787.7 1375.3 L787.9 1377.4 L788.9 1377.4 L789 1379.4 L790.1 1379.4 L790.2 1381.4 L791.2 1381.4 L791.3 1383.4 L791.5 1383.4 L791.6 1383.9 L792.6 1383.9 L792.8 1386 L793.7 1386 L793.9 1388 L794.8 1388 L795 1390 L795.9 1390 L796.1 1392 L797 1392 L797.2 1394 L798.1 1394 L798.2 1396 L799.1 1396 L799.3 1397.9 L800.2 1397.9 L800.3 1399.8 L801 1399.8 L801.1 1401.2 L801.8 1401.2 L801.9 1405 L802.5 1405 L802.6 1408.8 L803.3 1408.8 L803.4 1412.6 L804 1412.6 L804.2 1416.3 L804.8 1416.3 L804.9 1420 L805.5 1420 L805.7 1422.9 L806.3 1422.9 L806.4 1425.7 L807 1425.7 L807.1 1428.6 L807.7 1428.6 L807.9 1431.4 L808.5 1431.4 L808.6 1434.2 L809.2 1434.2 L809.3 1437 L809.7 1437 L809.8 1438.8 L810.5 1438.8 L810.6 1442.8 L811.3 1442.8 L811.4 1446.8 L812.1 1446.8 L812.3 1450.7 L813 1450.7 L813.1 1454.6 L813.8 1454.6 L813.9 1458.5 L814.6 1458.5 L814.7 1462.3 L814.9 1462.3 L815 1464 L815.9 1464 L816 1466.6 L816.9 1466.6 L817 1469.2 L817.9 1469.2 L818 1471.8 L818.9 1471.8 L819 1474.4 L819.9 1474.4 L820 1477 L820.8 1477 L820.9 1479.5 L821 1479.8 L824.2 1479.8" fill="none" stroke="#8F8F8F" stroke-width="2.0" stroke-linejoin="round"/>
<path d="M507.8 1335.5H516.2M518.2 1337.3H533M534.7 1339.6H554.7M556.1 1341.5H571.5M572.7 1344.5H662.7M663.2 1348.2H729.1M729.4 1350.1H778.8M821 1479.8H824.2" fill="none" stroke="#999999" stroke-width="7.3" stroke-linecap="square"/>
<path d="M507.8 1335.5H516.2M518.2 1337.3H533M534.7 1339.6H554.7M556.1 1341.5H571.5M572.7 1344.5H662.7M663.2 1348.2H729.1M729.4 1350.1H778.8M821 1479.8H824.2" fill="none" stroke="#A2A2A2" stroke-width="5.3" stroke-linecap="square"/>
<path d="M109.3 1268.2 L181 1272.7 L223 1275.3 L252.8 1276.5 L275.9 1286.2 L294.7 1286.2 L310.7 1289.2 L324.5 1291.1 L336.7 1293.7 L347.6 1293.7 L357.5 1296.4 L366.5 1296.4 L374.8 1296.4 L382.4 1296.4 L389.6 1296.4 L396.2 1297.9 L402.5 1302.8 L408.4 1302.8 L414 1302.8 L419.3 1302.8 L424.4 1302.8 L429.2 1312.9 L433.8 1312.9 L438.2 1312.9 L442.4 1324.2 L446.5 1324.2 L450.4 1324.2 L454.2 1330.2 L457.8 1330.2 L461.3 1330.2 L464.7 1330.2 L468 1330.2 L471.2 1333.6 L474.3 1333.6 L477.3 1333.6 L480.2 1333.6 L483 1333.6 L485.8 1334.3 L488.5 1334.3 L491.1 1334.3 L493.6 1334.3 L496.1 1334.3 L498.6 1334.3 L500.9 1334.3 L503.3 1335.5 L505.5 1335.5 L779 1363.3 L779.1 1363.3 L779.3 1363.3 L779.5 1363.3 L779.6 1363.3 L779.8 1363.3 L779.9 1363.3 L780.1 1363.3 L780.3 1365.2 L780.4 1365.2 L780.6 1365.2 L780.7 1365.2 L780.9 1365.2 L781 1365.2 L781.2 1365.2 L781.4 1365.2 L781.5 1367 L781.7 1367 L781.8 1367 L782 1367 L782.1 1367 L782.3 1367 L782.4 1367 L782.6 1367 L782.8 1368.9 L782.9 1368.9 L783.1 1368.9 L783.2 1368.9 L783.4 1368.9 L783.5 1368.9 L783.7 1368.9 L783.8 1368.9 L784 1370.7 L784.1 1370.7 L784.3 1371.2 L784.4 1371.2 L784.6 1371.2 L784.7 1371.2 L784.9 1371.2 L785 1371.2 L785.2 1371.2 L785.3 1371.2 L785.5 1373.3 L785.6 1373.3 L785.8 1373.3 L785.9 1373.3 L786.1 1373.3 L786.2 1373.3 L786.4 1373.3 L786.5 1373.3 L786.7 1375.3 L786.8 1375.3 L787 1375.3 L787.1 1375.3 L787.3 1375.3 L787.4 1375.3 L787.6 1375.3 L787.7 1375.3 L787.9 1377.4 L788 1377.4 L788.2 1377.4 L788.3 1377.4 L788.5 1377.4 L788.6 1377.4 L788.8 1377.4 L788.9 1377.4 L789 1379.4 L789.2 1379.4 L789.3 1379.4 L789.5 1379.4 L789.6 1379.4 L789.8 1379.4 L789.9 1379.4 L790.1 1379.4 L790.2 1381.4 L790.3 1381.4 L790.5 1381.4 L790.6 1381.4 L790.8 1381.4 L790.9 1381.4 L791.1 1381.4 L791.2 1381.4 L791.3 1383.4 L791.5 1383.4 L791.6 1383.9 L791.8 1383.9 L791.9 1383.9 L792.1 1383.9 L792.2 1383.9 L792.3 1383.9 L792.5 1383.9 L792.6 1383.9 L792.8 1386 L792.9 1386 L793 1386 L793.2 1386 L793.3 1386 L793.5 1386 L793.6 1386 L793.7 1386 L793.9 1388 L794 1388 L794.2 1388 L794.3 1388 L794.4 1388 L794.6 1388 L794.7 1388 L794.8 1388 L795 1390 L795.1 1390 L795.3 1390 L795.4 1390 L795.5 1390 L795.7 1390 L795.8 1390 L795.9 1390 L796.1 1392 L796.2 1392 L796.3 1392 L796.5 1392 L796.6 1392 L796.7 1392 L796.9 1392 L797 1392 L797.2 1394 L797.3 1394 L797.4 1394 L797.6 1394 L797.7 1394 L797.8 1394 L798 1394 L798.1 1394 L798.2 1396 L798.4 1396 L798.5 1396 L798.6 1396 L798.8 1396 L798.9 1396 L799 1396 L799.1 1396 L799.3 1397.9 L799.4 1397.9 L799.5 1397.9 L799.7 1397.9 L799.8 1397.9 L799.9 1397.9 L800.1 1397.9 L800.2 1397.9 L800.3 1399.8 L800.5 1399.8 L800.6 1399.8 L800.7 1399.8 L800.8 1399.8 L801 1399.8 L801.1 1401.2 L801.2 1401.2 L801.4 1401.2 L801.5 1401.2 L801.6 1401.2 L801.8 1401.2 L801.9 1405 L802 1405 L802.1 1405 L802.3 1405 L802.4 1405 L802.5 1405 L802.6 1408.8 L802.8 1408.8 L802.9 1408.8 L803 1408.8 L803.2 1408.8 L803.3 1408.8 L803.4 1412.6 L803.5 1412.6 L803.7 1412.6 L803.8 1412.6 L803.9 1412.6 L804 1412.6 L804.2 1416.3 L804.3 1416.3 L804.4 1416.3 L804.5 1416.3 L804.7 1416.3 L804.8 1416.3 L804.9 1420 L805 1420 L805.2 1420 L805.3 1420 L805.4 1420 L805.5 1420 L805.7 1422.9 L805.8 1422.9 L805.9 1422.9 L806 1422.9 L806.2 1422.9 L806.3 1422.9 L806.4 1425.7 L806.5 1425.7 L806.6 1425.7 L806.8 1425.7 L806.9 1425.7 L807 1425.7 L807.1 1428.6 L807.3 1428.6 L807.4 1428.6 L807.5 1428.6 L807.6 1428.6 L807.7 1428.6 L807.9 1431.4 L808 1431.4 L808.1 1431.4 L808.2 1431.4 L808.4 1431.4 L808.5 1431.4 L808.6 1434.2 L808.7 1434.2 L808.8 1434.2 L809 1434.2 L809.1 1434.2 L809.2 1434.2 L809.3 1437 L809.4 1437 L809.5 1437 L809.7 1437 L809.8 1438.8 L809.9 1438.8 L810 1438.8 L810.1 1438.8 L810.3 1438.8 L810.4 1438.8 L810.5 1438.8 L810.6 1442.8 L810.7 1442.8 L810.9 1442.8 L811 1442.8 L811.1 1442.8 L811.2 1442.8 L811.3 1442.8 L811.4 1446.8 L811.6 1446.8 L811.7 1446.8 L811.8 1446.8 L811.9 1446.8 L812 1446.8 L812.1 1446.8 L812.3 1450.7 L812.4 1450.7 L812.5 1450.7 L812.6 1450.7 L812.7 1450.7 L812.8 1450.7 L813 1450.7 L813.1 1454.6 L813.2 1454.6 L813.3 1454.6 L813.4 1454.6 L813.5 1454.6 L813.6 1454.6 L813.8 1454.6 L813.9 1458.5 L814 1458.5 L814.1 1458.5 L814.2 1458.5 L814.3 1458.5 L814.4 1458.5 L814.6 1458.5 L814.7 1462.3 L814.8 1462.3 L814.9 1462.3 L815 1464 L815.1 1464 L815.2 1464 L815.3 1464 L815.5 1464 L815.6 1464 L815.7 1464 L815.8 1464 L815.9 1464 L816 1466.6 L816.1 1466.6 L816.2 1466.6 L816.4 1466.6 L816.5 1466.6 L816.6 1466.6 L816.7 1466.6 L816.8 1466.6 L816.9 1466.6 L817 1469.2 L817.1 1469.2 L817.2 1469.2 L817.4 1469.2 L817.5 1469.2 L817.6 1469.2 L817.7 1469.2 L817.8 1469.2 L817.9 1469.2 L818 1471.8 L818.1 1471.8 L818.2 1471.8 L818.3 1471.8 L818.5 1471.8 L818.6 1471.8 L818.7 1471.8 L818.8 1471.8 L818.9 1471.8 L819 1474.4 L819.1 1474.4 L819.2 1474.4 L819.3 1474.4 L819.4 1474.4 L819.5 1474.4 L819.7 1474.4 L819.8 1474.4 L819.9 1474.4 L820 1477 L820.1 1477 L820.2 1477 L820.3 1477 L820.4 1477 L820.5 1477 L820.6 1477 L820.7 1477 L820.8 1477 L820.9 1479.5" fill="none" stroke="none" marker-start="url(#mGA)" marker-mid="url(#mGA)" marker-end="url(#mGA)"/>
<path d="M109.3 1267.1 L223 1267.1 L252.8 1268.9 L275.9 1272.3 L294.7 1274.2 L310.7 1277.2 L324.5 1281.3 L336.7 1285.1 L347.6 1290 L357.5 1294.5 L366.5 1298.2 L382.4 1298.2 L389.6 1299 L824.2 1299" fill="none" stroke="#FFB900" stroke-width="2.3" stroke-linejoin="round"/>
<path d="M507.8 1299 L824.2 1299" fill="none" stroke="none" marker-start="url(#fFA)" marker-mid="url(#fFA)" marker-end="url(#fFA)"/>
<path d="M507.8 1299H824.2" fill="none" stroke="#FFB800" stroke-width="7.8" stroke-linecap="butt"/>
<path d="M507.8 1299H824.2" fill="none" stroke="#FFBF00" stroke-width="5.8" stroke-linecap="butt"/>
<path d="M109.3 1267.1 L181 1267.1 L223 1267.1 L252.8 1268.9 L275.9 1272.3 L294.7 1274.2 L310.7 1277.2 L324.5 1281.3 L336.7 1285.1 L347.6 1290 L357.5 1294.5 L366.5 1298.2 L374.8 1298.2 L382.4 1298.2 L389.6 1299 L396.2 1299 L402.5 1299 L408.4 1299 L414 1299 L419.3 1299 L424.4 1299 L429.2 1299 L433.8 1299 L438.2 1299 L442.4 1299 L446.5 1299 L450.4 1299 L454.2 1299 L457.8 1299 L461.3 1299 L464.7 1299 L468 1299 L471.2 1299 L474.3 1299 L477.3 1299 L480.2 1299 L483 1299 L485.8 1299 L488.5 1299 L491.1 1299 L493.6 1299 L496.1 1299 L498.6 1299 L500.9 1299 L503.3 1299 L505.5 1299" fill="none" stroke="none" marker-start="url(#mFA)" marker-mid="url(#mFA)" marker-end="url(#mFA)"/>
<path d="M109.3 1264.4 L223 1264.4 L252.8 1265.2 L275.9 1265.6 L294.7 1265.9 L310.7 1266.3 L357.5 1266.3 L366.5 1266.7 L414 1266.7 L419.3 1267.1 L824.2 1267.1" fill="none" stroke="#1C4BBF" stroke-width="2.3" stroke-linejoin="round"/>
<path d="M507.8 1267.1 L824.2 1267.1" fill="none" stroke="none" marker-start="url(#fSCA)" marker-mid="url(#fSCA)" marker-end="url(#fSCA)"/>
<path d="M507.8 1267.1H824.2" fill="none" stroke="#2256BE" stroke-width="7.8" stroke-linecap="butt"/>
<path d="M507.8 1267.1H824.2" fill="none" stroke="#3B6AC6" stroke-width="5.8" stroke-linecap="butt"/>
<path d="M109.3 1264.4 L181 1264.4 L223 1264.4 L252.8 1265.2 L275.9 1265.6 L294.7 1265.9 L310.7 1266.3 L324.5 1266.3 L336.7 1266.3 L347.6 1266.3 L357.5 1266.3 L366.5 1266.7 L374.8 1266.7 L382.4 1266.7 L389.6 1266.7 L396.2 1266.7 L402.5 1266.7 L408.4 1266.7 L414 1266.7 L419.3 1267.1 L424.4 1267.1 L429.2 1267.1 L433.8 1267.1 L438.2 1267.1 L442.4 1267.1 L446.5 1267.1 L450.4 1267.1 L454.2 1267.1 L457.8 1267.1 L461.3 1267.1 L464.7 1267.1 L468 1267.1 L471.2 1267.1 L474.3 1267.1 L477.3 1267.1 L480.2 1267.1 L483 1267.1 L485.8 1267.1 L488.5 1267.1 L491.1 1267.1 L493.6 1267.1 L496.1 1267.1 L498.6 1267.1 L500.9 1267.1 L503.3 1267.1 L505.5 1267.1" fill="none" stroke="none" marker-start="url(#mSCA)" marker-mid="url(#mSCA)" marker-end="url(#mSCA)"/>
<path d="M109.3 1261 L181 1314.4 L223 1374.5 L252.8 1474.5 L275.9 1526.4 L294.7 1554.2 L310.7 1579 L366.5 1579 L374.8 1584.2 L477.3 1584.2 L480.2 1586.9 L516.2 1586.9 L518.2 1605.7 L769.4 1605.7 L769.6 1629 L781 1629 L781.2 1651.5 L824.2 1651.5" fill="none" stroke="#409414" stroke-width="2.4" stroke-linejoin="round"/>
<rect x="109.3" y="1223.3" width="733.5" height="439.1" fill="none" stroke="#222" stroke-width="1.5"/>
<g font-size="20.0" text-anchor="end"><text x="90.2" y="1293.2">1.E+01</text><text x="90.2" y="1368.4">1.E-01</text><text x="90.2" y="1443.5">1.E-03</text><text x="90.2" y="1518.7">1.E-05</text><text x="90.2" y="1593.8">1.E-07</text><text x="90.2" y="1669">1.E-09</text></g>
<g font-size="19.6" text-anchor="middle"><text x="109.3" y="1692.6">1.E+00</text><text x="347.6" y="1692.6">1.E+01</text><text x="585.9" y="1692.6">1.E+02</text><text x="824.2" y="1692.6">1.E+03</text></g>
<text x="477.8" y="1716.8" font-size="20.4" text-anchor="middle">Iteration Number</text>
<text transform="translate(16.5 1440.7) rotate(-90)" font-size="20.4" text-anchor="middle">Objective Function Value</text>
<g font-size="20.4"><path d="M128.6 1745.6H172.3" stroke="#2A7AD0" stroke-width="2.2" stroke-dasharray="8 10.3" stroke-linecap="round" fill="none"/><text x="175.8" y="1751.8">MA</text><path d="M231.3 1745.6H276.1" stroke="#EF6A1A" stroke-width="2.2" fill="none"/><path d="M253.7 1745.6L253.7 1745.6" stroke="none" fill="none" marker-start="url(#mPSO)"/><text x="279.6" y="1751.8">PSO</text><path d="M339.3 1745.6H384.1" stroke="#8F8F8F" stroke-width="2.2" fill="none"/><path d="M361.7 1745.6L361.7 1745.6" stroke="none" fill="none" marker-start="url(#mGA)"/><text x="387.6" y="1751.8">GA</text><path d="M439.3 1745.6H484.1" stroke="#FFB900" stroke-width="2.2" fill="none"/><path d="M461.7 1745.6L461.7 1745.6" stroke="none" fill="none" marker-start="url(#mFA)"/><text x="487.6" y="1751.8">FA</text><path d="M536.4 1745.6H581.2" stroke="#1C4BBF" stroke-width="2.2" fill="none"/><path d="M558.8 1745.6L558.8 1745.6" stroke="none" fill="none" marker-start="url(#mSCA)"/><text x="584.7" y="1751.8">SCA</text><path d="M646.5 1745.6H691.3" stroke="#409414" stroke-width="2.2" fill="none"/><text x="694.8" y="1751.8">HSI-MA</text></g>
<text x="458.8" y="1798.9" font-size="37.5" text-anchor="middle">(e)</text>
</g>
<g>
<path d="M1028.5 1260.3 L1100 1261.2 L1141.9 1262 L1171.5 1263.6 L1194.6 1265.3 L1213.4 1266.5 L1229.3 1267.7 L1243.1 1269.4 L1255.2 1270.6 L1266.1 1271.9 L1275.9 1271.9 L1284.9 1274.7 L1293.2 1274.7 L1300.8 1276 L1326.8 1276 L1332.3 1276.8 L1337.6 1283.8 L1352 1283.8 L1356.4 1293.3 L1360.7 1301.5 L1364.7 1301.5 L1368.6 1314.3 L1376 1314.3 L1379.5 1325.8 L1392.4 1325.8 L1395.4 1327 L1398.3 1327 L1401.1 1342.3 L1406.5 1342.3 L1409.1 1352.6 L1411.7 1370.3 L1414.2 1400.3 L1416.6 1447.7 L1419 1483.1 L1423.6 1483.1 L1425.8 1500.8 L1430.1 1500.8 L1432.2 1517.3 L1440.1 1517.3 L1442 1520.2 L1521.6 1520.2 L1522.5 1531.3 L1595.7 1531.3 L1596.2 1538.3 L1741.3 1538.3" fill="none" stroke="#2A7AD0" stroke-width="2.2" stroke-linejoin="round" stroke-dasharray="8 10.3" stroke-linecap="round"/>
<path d="M1028.5 1262.8 L1171.5 1262.8 L1194.6 1264.5 L1213.4 1265.3 L1243.1 1265.3 L1255.2 1269.4 L1266.1 1269.4 L1275.9 1272.7 L1284.9 1272.7 L1293.2 1274.3 L1332.3 1274.3 L1337.6 1278 L1379.5 1278 L1382.8 1283 L1425.8 1283 L1428 1284.6 L1480.7 1284.6 L1482 1287.5 L1491.7 1287.5 L1492.8 1290 L1503.7 1290 L1504.7 1294.9 L1509.7 1294.9 L1510.7 1298.2 L1516.3 1298.2 L1517.2 1302.3 L1540.6 1302.3 L1541.3 1308.9 L1582.2 1308.9 L1582.7 1308.5 L1620.8 1308.5 L1621.1 1311.4 L1624.7 1311.4 L1625 1312.7 L1628.5 1312.7 L1628.8 1313.9 L1632.1 1313.9 L1632.4 1315.1 L1635.6 1315.1 L1635.9 1316.2 L1636.2 1316.3 L1640.1 1316.3 L1640.4 1317.3 L1644.1 1317.3 L1644.4 1318.2 L1648 1318.2 L1648.3 1319.1 L1651.8 1319.1 L1652 1320 L1655.4 1320 L1655.6 1320.8 L1658.9 1320.8 L1659.1 1321.6 L1659.4 1321.7 L1660.9 1321.7 L1661.2 1323.9 L1662.7 1323.9 L1663 1326 L1664.5 1326 L1664.7 1328.1 L1665.3 1328.1 L1665.6 1329.1 L1667.5 1329.1 L1667.7 1330.3 L1669.6 1330.3 L1669.8 1331.5 L1671.6 1331.5 L1671.8 1332.7 L1673.6 1332.7 L1673.8 1333.9 L1675.6 1333.9 L1675.8 1335 L1677.5 1335 L1677.7 1336.1 L1679.4 1336.1 L1679.6 1337.2 L1680.4 1337.2 L1680.5 1337.8 L1682.2 1337.8 L1682.4 1340.4 L1684 1340.4 L1684.2 1343 L1685.8 1343 L1686 1345.5 L1687.6 1345.5 L1687.7 1348 L1689.3 1348 L1689.4 1350.5 L1691 1350.5 L1691.1 1352.9 L1692.6 1352.9 L1692.8 1355.3 L1694.3 1355.3 L1694.4 1357.6 L1695.1 1357.6 L1695.2 1358.8 L1696.7 1358.8 L1696.8 1360.3 L1698.3 1360.3 L1698.4 1361.9 L1699.8 1361.9 L1700 1363.4 L1701.4 1363.4 L1701.5 1364.9 L1702.9 1364.9 L1703 1366.4 L1704.3 1366.4 L1704.5 1367.8 L1705.8 1367.8 L1706 1369.3 L1707.3 1369.3 L1707.4 1370.7 L1708.7 1370.7 L1708.8 1372.5 L1710.1 1372.5 L1710.2 1374.4 L1711.5 1374.4 L1711.6 1376.1 L1712.8 1376.1 L1713 1377.9 L1714.2 1377.9 L1714.3 1379.7 L1715.5 1379.7 L1715.7 1381.4 L1716.2 1381.4 L1716.3 1382.2 L1717.4 1382.2 L1717.5 1384.6 L1718.5 1384.6 L1718.7 1387 L1719.7 1387 L1719.8 1389.4 L1720.8 1389.4 L1720.9 1391.7 L1721.9 1391.7 L1722.1 1394.1 L1723.1 1394.1 L1723.2 1396.3 L1724.2 1396.3 L1724.3 1398.6 L1725 1398.6 L1725.1 1400.3 L1726.1 1400.3 L1726.2 1402.3 L1727.2 1402.3 L1727.3 1404.2 L1728.2 1404.2 L1728.3 1406.1 L1729.3 1406.1 L1729.4 1408 L1730.3 1408 L1730.4 1409.8 L1731.3 1409.8 L1731.5 1411.7 L1731.6 1411.9 L1733.1 1411.9 L1733.3 1412.2 L1734.8 1412.2 L1734.9 1412.6 L1736.4 1412.6 L1736.5 1412.9 L1738.1 1412.9 L1738.2 1413.3 L1739.6 1413.3 L1739.7 1413.6 L1741.2 1413.6 L1741.3 1413.9" fill="none" stroke="#EF6A1A" stroke-width="2.2" stroke-linejoin="round"/>
<path d="M1428 1284.6H1480.7M1482 1287.5H1491.7M1492.8 1290H1503.7M1504.7 1294.9H1509.7M1510.7 1298.2H1516.3M1517.2 1302.3H1540.6M1541.3 1308.9H1582.2M1582.7 1308.5H1620.8M1621.1 1311.4H1624.7M1625 1312.7H1628.5M1628.8 1313.9H1632.1M1632.4 1315.1H1635.6M1636.2 1316.3H1640.1M1640.4 1317.3H1644.1M1644.4 1318.2H1648M1648.3 1319.1H1651.8M1652 1320H1655.4M1655.6 1320.8H1658.9" fill="none" stroke="#EB620F" stroke-width="7.6" stroke-linecap="round"/>
<path d="M1428 1284.6H1480.7M1482 1287.5H1491.7M1492.8 1290H1503.7M1504.7 1294.9H1509.7M1510.7 1298.2H1516.3M1517.2 1302.3H1540.6M1541.3 1308.9H1582.2M1582.7 1308.5H1620.8M1621.1 1311.4H1624.7M1625 1312.7H1628.5M1628.8 1313.9H1632.1M1632.4 1315.1H1635.6M1636.2 1316.3H1640.1M1640.4 1317.3H1644.1M1644.4 1318.2H1648M1648.3 1319.1H1651.8M1652 1320H1655.4M1655.6 1320.8H1658.9" fill="none" stroke="#EE7428" stroke-width="5.6" stroke-linecap="round"/>
<path d="M1028.5 1262.8 L1100 1262.8 L1141.9 1262.8 L1171.5 1262.8 L1194.6 1264.5 L1213.4 1265.3 L1229.3 1265.3 L1243.1 1265.3 L1255.2 1269.4 L1266.1 1269.4 L1275.9 1272.7 L1284.9 1272.7 L1293.2 1274.3 L1300.8 1274.3 L1307.9 1274.3 L1314.6 1274.3 L1320.9 1274.3 L1326.8 1274.3 L1332.3 1274.3 L1337.6 1278 L1342.7 1278 L1347.5 1278 L1352 1278 L1356.4 1278 L1360.7 1278 L1364.7 1278 L1368.6 1278 L1372.3 1278 L1376 1278 L1379.5 1278 L1382.8 1283 L1386.1 1283 L1389.3 1283 L1392.4 1283 L1395.4 1283 L1398.3 1283 L1401.1 1283 L1403.9 1283 L1406.5 1283 L1409.1 1283 L1411.7 1283 L1414.2 1283 L1416.6 1283 L1419 1283 L1421.3 1283 L1423.6 1283 L1425.8 1283 L1635.9 1316.2 L1659.1 1321.6 L1659.4 1321.7 L1659.6 1321.7 L1659.8 1321.7 L1660 1321.7 L1660.3 1321.7 L1660.5 1321.7 L1660.7 1321.7 L1660.9 1321.7 L1661.2 1323.9 L1661.4 1323.9 L1661.6 1323.9 L1661.8 1323.9 L1662.1 1323.9 L1662.3 1323.9 L1662.5 1323.9 L1662.7 1323.9 L1663 1326 L1663.2 1326 L1663.4 1326 L1663.6 1326 L1663.8 1326 L1664 1326 L1664.3 1326 L1664.5 1326 L1664.7 1328.1 L1664.9 1328.1 L1665.1 1328.1 L1665.3 1328.1 L1665.6 1329.1 L1665.8 1329.1 L1666 1329.1 L1666.2 1329.1 L1666.4 1329.1 L1666.6 1329.1 L1666.8 1329.1 L1667.1 1329.1 L1667.3 1329.1 L1667.5 1329.1 L1667.7 1330.3 L1667.9 1330.3 L1668.1 1330.3 L1668.3 1330.3 L1668.5 1330.3 L1668.7 1330.3 L1668.9 1330.3 L1669.2 1330.3 L1669.4 1330.3 L1669.6 1330.3 L1669.8 1331.5 L1670 1331.5 L1670.2 1331.5 L1670.4 1331.5 L1670.6 1331.5 L1670.8 1331.5 L1671 1331.5 L1671.2 1331.5 L1671.4 1331.5 L1671.6 1331.5 L1671.8 1332.7 L1672 1332.7 L1672.2 1332.7 L1672.4 1332.7 L1672.6 1332.7 L1672.8 1332.7 L1673 1332.7 L1673.2 1332.7 L1673.4 1332.7 L1673.6 1332.7 L1673.8 1333.9 L1674 1333.9 L1674.2 1333.9 L1674.4 1333.9 L1674.6 1333.9 L1674.8 1333.9 L1675 1333.9 L1675.2 1333.9 L1675.4 1333.9 L1675.6 1333.9 L1675.8 1335 L1676 1335 L1676.2 1335 L1676.4 1335 L1676.6 1335 L1676.8 1335 L1676.9 1335 L1677.1 1335 L1677.3 1335 L1677.5 1335 L1677.7 1336.1 L1677.9 1336.1 L1678.1 1336.1 L1678.3 1336.1 L1678.5 1336.1 L1678.7 1336.1 L1678.9 1336.1 L1679 1336.1 L1679.2 1336.1 L1679.4 1336.1 L1679.6 1337.2 L1679.8 1337.2 L1680 1337.2 L1680.2 1337.2 L1680.4 1337.2 L1680.5 1337.8 L1680.7 1337.8 L1680.9 1337.8 L1681.1 1337.8 L1681.3 1337.8 L1681.5 1337.8 L1681.7 1337.8 L1681.8 1337.8 L1682 1337.8 L1682.2 1337.8 L1682.4 1340.4 L1682.6 1340.4 L1682.8 1340.4 L1682.9 1340.4 L1683.1 1340.4 L1683.3 1340.4 L1683.5 1340.4 L1683.7 1340.4 L1683.8 1340.4 L1684 1340.4 L1684.2 1343 L1684.4 1343 L1684.6 1343 L1684.7 1343 L1684.9 1343 L1685.1 1343 L1685.3 1343 L1685.4 1343 L1685.6 1343 L1685.8 1343 L1686 1345.5 L1686.2 1345.5 L1686.3 1345.5 L1686.5 1345.5 L1686.7 1345.5 L1686.9 1345.5 L1687 1345.5 L1687.2 1345.5 L1687.4 1345.5 L1687.6 1345.5 L1687.7 1348 L1687.9 1348 L1688.1 1348 L1688.2 1348 L1688.4 1348 L1688.6 1348 L1688.8 1348 L1688.9 1348 L1689.1 1348 L1689.3 1348 L1689.4 1350.5 L1689.6 1350.5 L1689.8 1350.5 L1690 1350.5 L1690.1 1350.5 L1690.3 1350.5 L1690.5 1350.5 L1690.6 1350.5 L1690.8 1350.5 L1691 1350.5 L1691.1 1352.9 L1691.3 1352.9 L1691.5 1352.9 L1691.6 1352.9 L1691.8 1352.9 L1692 1352.9 L1692.1 1352.9 L1692.3 1352.9 L1692.5 1352.9 L1692.6 1352.9 L1692.8 1355.3 L1693 1355.3 L1693.1 1355.3 L1693.3 1355.3 L1693.5 1355.3 L1693.6 1355.3 L1693.8 1355.3 L1694 1355.3 L1694.1 1355.3 L1694.3 1355.3 L1694.4 1357.6 L1694.6 1357.6 L1694.8 1357.6 L1694.9 1357.6 L1695.1 1357.6 L1695.2 1358.8 L1695.4 1358.8 L1695.6 1358.8 L1695.7 1358.8 L1695.9 1358.8 L1696.1 1358.8 L1696.2 1358.8 L1696.4 1358.8 L1696.5 1358.8 L1696.7 1358.8 L1696.8 1360.3 L1697 1360.3 L1697.2 1360.3 L1697.3 1360.3 L1697.5 1360.3 L1697.6 1360.3 L1697.8 1360.3 L1698 1360.3 L1698.1 1360.3 L1698.3 1360.3 L1698.4 1361.9 L1698.6 1361.9 L1698.7 1361.9 L1698.9 1361.9 L1699 1361.9 L1699.2 1361.9 L1699.4 1361.9 L1699.5 1361.9 L1699.7 1361.9 L1699.8 1361.9 L1700 1363.4 L1700.1 1363.4 L1700.3 1363.4 L1700.4 1363.4 L1700.6 1363.4 L1700.7 1363.4 L1700.9 1363.4 L1701 1363.4 L1701.2 1363.4 L1701.4 1363.4 L1701.5 1364.9 L1701.7 1364.9 L1701.8 1364.9 L1702 1364.9 L1702.1 1364.9 L1702.3 1364.9 L1702.4 1364.9 L1702.6 1364.9 L1702.7 1364.9 L1702.9 1364.9 L1703 1366.4 L1703.2 1366.4 L1703.3 1366.4 L1703.5 1366.4 L1703.6 1366.4 L1703.8 1366.4 L1703.9 1366.4 L1704.1 1366.4 L1704.2 1366.4 L1704.3 1366.4 L1704.5 1367.8 L1704.6 1367.8 L1704.8 1367.8 L1704.9 1367.8 L1705.1 1367.8 L1705.2 1367.8 L1705.4 1367.8 L1705.5 1367.8 L1705.7 1367.8 L1705.8 1367.8 L1706 1369.3 L1706.1 1369.3 L1706.2 1369.3 L1706.4 1369.3 L1706.5 1369.3 L1706.7 1369.3 L1706.8 1369.3 L1707 1369.3 L1707.1 1369.3 L1707.3 1369.3 L1707.4 1370.7 L1707.5 1370.7 L1707.7 1370.7 L1707.8 1370.7 L1708 1370.7 L1708.1 1370.7 L1708.3 1370.7 L1708.4 1370.7 L1708.5 1370.7 L1708.7 1370.7 L1708.8 1372.5 L1709 1372.5 L1709.1 1372.5 L1709.2 1372.5 L1709.4 1372.5 L1709.5 1372.5 L1709.7 1372.5 L1709.8 1372.5 L1710 1372.5 L1710.1 1372.5 L1710.2 1374.4 L1710.4 1374.4 L1710.5 1374.4 L1710.6 1374.4 L1710.8 1374.4 L1710.9 1374.4 L1711.1 1374.4 L1711.2 1374.4 L1711.3 1374.4 L1711.5 1374.4 L1711.6 1376.1 L1711.8 1376.1 L1711.9 1376.1 L1712 1376.1 L1712.2 1376.1 L1712.3 1376.1 L1712.4 1376.1 L1712.6 1376.1 L1712.7 1376.1 L1712.8 1376.1 L1713 1377.9 L1713.1 1377.9 L1713.3 1377.9 L1713.4 1377.9 L1713.5 1377.9 L1713.7 1377.9 L1713.8 1377.9 L1713.9 1377.9 L1714.1 1377.9 L1714.2 1377.9 L1714.3 1379.7 L1714.5 1379.7 L1714.6 1379.7 L1714.7 1379.7 L1714.9 1379.7 L1715 1379.7 L1715.1 1379.7 L1715.3 1379.7 L1715.4 1379.7 L1715.5 1379.7 L1715.7 1381.4 L1715.8 1381.4 L1715.9 1381.4 L1716.1 1381.4 L1716.2 1381.4 L1716.3 1382.2 L1716.5 1382.2 L1716.6 1382.2 L1716.7 1382.2 L1716.8 1382.2 L1717 1382.2 L1717.1 1382.2 L1717.2 1382.2 L1717.4 1382.2 L1717.5 1384.6 L1717.6 1384.6 L1717.8 1384.6 L1717.9 1384.6 L1718 1384.6 L1718.1 1384.6 L1718.3 1384.6 L1718.4 1384.6 L1718.5 1384.6 L1718.7 1387 L1718.8 1387 L1718.9 1387 L1719 1387 L1719.2 1387 L1719.3 1387 L1719.4 1387 L1719.6 1387 L1719.7 1387 L1719.8 1389.4 L1719.9 1389.4 L1720.1 1389.4 L1720.2 1389.4 L1720.3 1389.4 L1720.4 1389.4 L1720.6 1389.4 L1720.7 1389.4 L1720.8 1389.4 L1720.9 1391.7 L1721.1 1391.7 L1721.2 1391.7 L1721.3 1391.7 L1721.4 1391.7 L1721.6 1391.7 L1721.7 1391.7 L1721.8 1391.7 L1721.9 1391.7 L1722.1 1394.1 L1722.2 1394.1 L1722.3 1394.1 L1722.4 1394.1 L1722.6 1394.1 L1722.7 1394.1 L1722.8 1394.1 L1722.9 1394.1 L1723.1 1394.1 L1723.2 1396.3 L1723.3 1396.3 L1723.4 1396.3 L1723.6 1396.3 L1723.7 1396.3 L1723.8 1396.3 L1723.9 1396.3 L1724 1396.3 L1724.2 1396.3 L1724.3 1398.6 L1724.4 1398.6 L1724.5 1398.6 L1724.7 1398.6 L1724.8 1398.6 L1724.9 1398.6 L1725 1398.6 L1725.1 1400.3 L1725.3 1400.3 L1725.4 1400.3 L1725.5 1400.3 L1725.6 1400.3 L1725.7 1400.3 L1725.9 1400.3 L1726 1400.3 L1726.1 1400.3 L1726.2 1402.3 L1726.3 1402.3 L1726.5 1402.3 L1726.6 1402.3 L1726.7 1402.3 L1726.8 1402.3 L1726.9 1402.3 L1727 1402.3 L1727.2 1402.3 L1727.3 1404.2 L1727.4 1404.2 L1727.5 1404.2 L1727.6 1404.2 L1727.8 1404.2 L1727.9 1404.2 L1728 1404.2 L1728.1 1404.2 L1728.2 1404.2 L1728.3 1406.1 L1728.5 1406.1 L1728.6 1406.1 L1728.7 1406.1 L1728.8 1406.1 L1728.9 1406.1 L1729 1406.1 L1729.2 1406.1 L1729.3 1406.1 L1729.4 1408 L1729.5 1408 L1729.6 1408 L1729.7 1408 L1729.9 1408 L1730 1408 L1730.1 1408 L1730.2 1408 L1730.3 1408 L1730.4 1409.8 L1730.5 1409.8 L1730.7 1409.8 L1730.8 1409.8 L1730.9 1409.8 L1731 1409.8 L1731.1 1409.8 L1731.2 1409.8 L1731.3 1409.8 L1731.5 1411.7 L1731.6 1411.9 L1731.7 1411.9 L1731.8 1411.9 L1731.9 1411.9 L1732 1411.9 L1732.1 1411.9 L1732.2 1411.9 L1732.4 1411.9 L1732.5 1411.9 L1732.6 1411.9 L1732.7 1411.9 L1732.8 1411.9 L1732.9 1411.9 L1733 1411.9 L1733.1 1411.9 L1733.3 1412.2 L1733.4 1412.2 L1733.5 1412.2 L1733.6 1412.2 L1733.7 1412.2 L1733.8 1412.2 L1733.9 1412.2 L1734 1412.2 L1734.1 1412.2 L1734.3 1412.2 L1734.4 1412.2 L1734.5 1412.2 L1734.6 1412.2 L1734.7 1412.2 L1734.8 1412.2 L1734.9 1412.6 L1735 1412.6 L1735.1 1412.6 L1735.2 1412.6 L1735.4 1412.6 L1735.5 1412.6 L1735.6 1412.6 L1735.7 1412.6 L1735.8 1412.6 L1735.9 1412.6 L1736 1412.6 L1736.1 1412.6 L1736.2 1412.6 L1736.3 1412.6 L1736.4 1412.6 L1736.5 1412.9 L1736.7 1412.9 L1736.8 1412.9 L1736.9 1412.9 L1737 1412.9 L1737.1 1412.9 L1737.2 1412.9 L1737.3 1412.9 L1737.4 1412.9 L1737.5 1412.9 L1737.6 1412.9 L1737.7 1412.9 L1737.8 1412.9 L1737.9 1412.9 L1738.1 1412.9 L1738.2 1413.3 L1738.3 1413.3 L1738.4 1413.3 L1738.5 1413.3 L1738.6 1413.3 L1738.7 1413.3 L1738.8 1413.3 L1738.9 1413.3 L1739 1413.3 L1739.1 1413.3 L1739.2 1413.3 L1739.3 1413.3 L1739.4 1413.3 L1739.5 1413.3 L1739.6 1413.3 L1739.7 1413.6 L1739.8 1413.6 L1739.9 1413.6 L1740.1 1413.6 L1740.2 1413.6 L1740.3 1413.6 L1740.4 1413.6 L1740.5 1413.6 L1740.6 1413.6 L1740.7 1413.6 L1740.8 1413.6 L1740.9 1413.6 L1741 1413.6 L1741.1 1413.6 L1741.2 1413.6 L1741.3 1413.9" fill="none" stroke="none" marker-start="url(#mPSO)" marker-mid="url(#mPSO)" marker-end="url(#mPSO)"/>
<path d="M1028.5 1262 L1100 1262 L1141.9 1267.3 L1171.5 1268.6 L1194.6 1276 L1213.4 1282.2 L1229.3 1282.2 L1243.1 1294.1 L1255.2 1294.1 L1266.1 1299 L1293.2 1299 L1300.8 1301.5 L1307.9 1302.3 L1314.6 1302.8 L1459.2 1302.8 L1460.8 1304 L1556.6 1304 L1557.2 1308.9 L1579.3 1308.9 L1579.8 1310.6 L1614.6 1310.6 L1615 1319.6 L1626.6 1319.6 L1626.9 1322.1 L1629.7 1322.1 L1630 1327.5 L1634.1 1327.5 L1634.4 1328.8 L1638.4 1328.8 L1638.7 1330.1 L1642.5 1330.1 L1642.8 1331.4 L1646.5 1331.4 L1646.7 1332.6 L1650.3 1332.6 L1650.5 1333.7 L1652.8 1333.7 L1653 1334.5 L1655.2 1334.5 L1655.4 1335.7 L1657.5 1335.7 L1657.8 1337 L1659.8 1337 L1660 1338.2 L1662.1 1338.2 L1662.3 1339.3 L1664.3 1339.3 L1664.5 1340.5 L1665.3 1340.5 L1665.6 1341 L1667.9 1341 L1668.1 1342.9 L1670.4 1342.9 L1670.6 1344.8 L1672.8 1344.8 L1673 1346.6 L1675.2 1346.6 L1675.4 1348.4 L1677.5 1348.4 L1677.7 1350.1 L1679.8 1350.1 L1680 1351.8 L1680.4 1351.8 L1680.5 1352.2 L1716.2 1352.2 L1716.3 1357.9 L1716.8 1357.9 L1717 1362.2 L1717.5 1362.2 L1717.6 1366.5 L1718.1 1366.5 L1718.3 1370.7 L1719.3 1370.7 L1719.4 1372.2 L1720.4 1372.2 L1720.6 1373.6 L1721.6 1373.6 L1721.7 1375 L1722.7 1375 L1722.8 1376.4 L1723.8 1376.4 L1723.9 1377.8 L1724.9 1377.8 L1725 1379.2 L1725.1 1379.3 L1726.1 1379.3 L1726.2 1381.4 L1727.2 1381.4 L1727.3 1383.3 L1728.2 1383.3 L1728.3 1385.3 L1729.3 1385.3 L1729.4 1387.2 L1730.3 1387.2 L1730.4 1389.2 L1731.3 1389.2 L1731.5 1391.1 L1731.6 1391.3 L1733.1 1391.3 L1733.3 1392.2 L1734.8 1392.2 L1734.9 1393.1 L1736.4 1393.1 L1736.5 1394 L1738.1 1394 L1738.2 1394.9 L1739.6 1394.9 L1739.7 1395.8 L1741.2 1395.8 L1741.3 1396.6" fill="none" stroke="#8F8F8F" stroke-width="2.0" stroke-linejoin="round"/>
<path d="M1425.8 1302.8H1459.2M1460.8 1304H1556.6M1557.2 1308.9H1579.3M1579.8 1310.6H1614.6M1615 1319.6H1626.6M1630 1327.5H1634.1M1634.4 1328.8H1638.4M1638.7 1330.1H1642.5M1642.8 1331.4H1646.5M1646.7 1332.6H1650.3M1680.5 1352.2H1716.2" fill="none" stroke="#999999" stroke-width="7.3" stroke-linecap="square"/>
<path d="M1425.8 1302.8H1459.2M1460.8 1304H1556.6M1557.2 1308.9H1579.3M1579.8 1310.6H1614.6M1615 1319.6H1626.6M1630 1327.5H1634.1M1634.4 1328.8H1638.4M1638.7 1330.1H1642.5M1642.8 1331.4H1646.5M1646.7 1332.6H1650.3M1680.5 1352.2H1716.2" fill="none" stroke="#A2A2A2" stroke-width="5.3" stroke-linecap="square"/>
<path d="M1028.5 1262 L1100 1262 L1141.9 1267.3 L1171.5 1268.6 L1194.6 1276 L1213.4 1282.2 L1229.3 1282.2 L1243.1 1294.1 L1255.2 1294.1 L1266.1 1299 L1275.9 1299 L1284.9 1299 L1293.2 1299 L1300.8 1301.5 L1307.9 1302.3 L1314.6 1302.8 L1320.9 1302.8 L1326.8 1302.8 L1332.3 1302.8 L1337.6 1302.8 L1342.7 1302.8 L1347.5 1302.8 L1352 1302.8 L1356.4 1302.8 L1360.7 1302.8 L1364.7 1302.8 L1368.6 1302.8 L1372.3 1302.8 L1376 1302.8 L1379.5 1302.8 L1382.8 1302.8 L1386.1 1302.8 L1389.3 1302.8 L1392.4 1302.8 L1395.4 1302.8 L1398.3 1302.8 L1401.1 1302.8 L1403.9 1302.8 L1406.5 1302.8 L1409.1 1302.8 L1411.7 1302.8 L1414.2 1302.8 L1416.6 1302.8 L1419 1302.8 L1421.3 1302.8 L1423.6 1302.8 L1626.9 1322.1 L1627.2 1322.1 L1627.5 1322.1 L1627.8 1322.1 L1628.1 1322.1 L1628.5 1322.1 L1628.8 1322.1 L1629.1 1322.1 L1629.4 1322.1 L1629.7 1322.1 L1650.5 1333.7 L1650.8 1333.7 L1651 1333.7 L1651.3 1333.7 L1651.5 1333.7 L1651.8 1333.7 L1652 1333.7 L1652.3 1333.7 L1652.5 1333.7 L1652.8 1333.7 L1653 1334.5 L1653.2 1334.5 L1653.5 1334.5 L1653.7 1334.5 L1654 1334.5 L1654.2 1334.5 L1654.5 1334.5 L1654.7 1334.5 L1654.9 1334.5 L1655.2 1334.5 L1655.4 1335.7 L1655.6 1335.7 L1655.9 1335.7 L1656.1 1335.7 L1656.3 1335.7 L1656.6 1335.7 L1656.8 1335.7 L1657.1 1335.7 L1657.3 1335.7 L1657.5 1335.7 L1657.8 1337 L1658 1337 L1658.2 1337 L1658.4 1337 L1658.7 1337 L1658.9 1337 L1659.1 1337 L1659.4 1337 L1659.6 1337 L1659.8 1337 L1660 1338.2 L1660.3 1338.2 L1660.5 1338.2 L1660.7 1338.2 L1660.9 1338.2 L1661.2 1338.2 L1661.4 1338.2 L1661.6 1338.2 L1661.8 1338.2 L1662.1 1338.2 L1662.3 1339.3 L1662.5 1339.3 L1662.7 1339.3 L1663 1339.3 L1663.2 1339.3 L1663.4 1339.3 L1663.6 1339.3 L1663.8 1339.3 L1664 1339.3 L1664.3 1339.3 L1664.5 1340.5 L1664.7 1340.5 L1664.9 1340.5 L1665.1 1340.5 L1665.3 1340.5 L1665.6 1341 L1665.8 1341 L1666 1341 L1666.2 1341 L1666.4 1341 L1666.6 1341 L1666.8 1341 L1667.1 1341 L1667.3 1341 L1667.5 1341 L1667.7 1341 L1667.9 1341 L1668.1 1342.9 L1668.3 1342.9 L1668.5 1342.9 L1668.7 1342.9 L1668.9 1342.9 L1669.2 1342.9 L1669.4 1342.9 L1669.6 1342.9 L1669.8 1342.9 L1670 1342.9 L1670.2 1342.9 L1670.4 1342.9 L1670.6 1344.8 L1670.8 1344.8 L1671 1344.8 L1671.2 1344.8 L1671.4 1344.8 L1671.6 1344.8 L1671.8 1344.8 L1672 1344.8 L1672.2 1344.8 L1672.4 1344.8 L1672.6 1344.8 L1672.8 1344.8 L1673 1346.6 L1673.2 1346.6 L1673.4 1346.6 L1673.6 1346.6 L1673.8 1346.6 L1674 1346.6 L1674.2 1346.6 L1674.4 1346.6 L1674.6 1346.6 L1674.8 1346.6 L1675 1346.6 L1675.2 1346.6 L1675.4 1348.4 L1675.6 1348.4 L1675.8 1348.4 L1676 1348.4 L1676.2 1348.4 L1676.4 1348.4 L1676.6 1348.4 L1676.8 1348.4 L1676.9 1348.4 L1677.1 1348.4 L1677.3 1348.4 L1677.5 1348.4 L1677.7 1350.1 L1677.9 1350.1 L1678.1 1350.1 L1678.3 1350.1 L1678.5 1350.1 L1678.7 1350.1 L1678.9 1350.1 L1679 1350.1 L1679.2 1350.1 L1679.4 1350.1 L1679.6 1350.1 L1679.8 1350.1 L1680 1351.8 L1680.2 1351.8 L1680.4 1351.8 L1716.3 1357.9 L1716.5 1357.9 L1716.6 1357.9 L1716.7 1357.9 L1716.8 1357.9 L1717 1362.2 L1717.1 1362.2 L1717.2 1362.2 L1717.4 1362.2 L1717.5 1362.2 L1717.6 1366.5 L1717.8 1366.5 L1717.9 1366.5 L1718 1366.5 L1718.1 1366.5 L1718.3 1370.7 L1718.4 1370.7 L1718.5 1370.7 L1718.7 1370.7 L1718.8 1370.7 L1718.9 1370.7 L1719 1370.7 L1719.2 1370.7 L1719.3 1370.7 L1719.4 1372.2 L1719.6 1372.2 L1719.7 1372.2 L1719.8 1372.2 L1719.9 1372.2 L1720.1 1372.2 L1720.2 1372.2 L1720.3 1372.2 L1720.4 1372.2 L1720.6 1373.6 L1720.7 1373.6 L1720.8 1373.6 L1720.9 1373.6 L1721.1 1373.6 L1721.2 1373.6 L1721.3 1373.6 L1721.4 1373.6 L1721.6 1373.6 L1721.7 1375 L1721.8 1375 L1721.9 1375 L1722.1 1375 L1722.2 1375 L1722.3 1375 L1722.4 1375 L1722.6 1375 L1722.7 1375 L1722.8 1376.4 L1722.9 1376.4 L1723.1 1376.4 L1723.2 1376.4 L1723.3 1376.4 L1723.4 1376.4 L1723.6 1376.4 L1723.7 1376.4 L1723.8 1376.4 L1723.9 1377.8 L1724 1377.8 L1724.2 1377.8 L1724.3 1377.8 L1724.4 1377.8 L1724.5 1377.8 L1724.7 1377.8 L1724.8 1377.8 L1724.9 1377.8 L1725 1379.2 L1725.1 1379.3 L1725.3 1379.3 L1725.4 1379.3 L1725.5 1379.3 L1725.6 1379.3 L1725.7 1379.3 L1725.9 1379.3 L1726 1379.3 L1726.1 1379.3 L1726.2 1381.4 L1726.3 1381.4 L1726.5 1381.4 L1726.6 1381.4 L1726.7 1381.4 L1726.8 1381.4 L1726.9 1381.4 L1727 1381.4 L1727.2 1381.4 L1727.3 1383.3 L1727.4 1383.3 L1727.5 1383.3 L1727.6 1383.3 L1727.8 1383.3 L1727.9 1383.3 L1728 1383.3 L1728.1 1383.3 L1728.2 1383.3 L1728.3 1385.3 L1728.5 1385.3 L1728.6 1385.3 L1728.7 1385.3 L1728.8 1385.3 L1728.9 1385.3 L1729 1385.3 L1729.2 1385.3 L1729.3 1385.3 L1729.4 1387.2 L1729.5 1387.2 L1729.6 1387.2 L1729.7 1387.2 L1729.9 1387.2 L1730 1387.2 L1730.1 1387.2 L1730.2 1387.2 L1730.3 1387.2 L1730.4 1389.2 L1730.5 1389.2 L1730.7 1389.2 L1730.8 1389.2 L1730.9 1389.2 L1731 1389.2 L1731.1 1389.2 L1731.2 1389.2 L1731.3 1389.2 L1731.5 1391.1 L1731.6 1391.3 L1731.7 1391.3 L1731.8 1391.3 L1731.9 1391.3 L1732 1391.3 L1732.1 1391.3 L1732.2 1391.3 L1732.4 1391.3 L1732.5 1391.3 L1732.6 1391.3 L1732.7 1391.3 L1732.8 1391.3 L1732.9 1391.3 L1733 1391.3 L1733.1 1391.3 L1733.3 1392.2 L1733.4 1392.2 L1733.5 1392.2 L1733.6 1392.2 L1733.7 1392.2 L1733.8 1392.2 L1733.9 1392.2 L1734 1392.2 L1734.1 1392.2 L1734.3 1392.2 L1734.4 1392.2 L1734.5 1392.2 L1734.6 1392.2 L1734.7 1392.2 L1734.8 1392.2 L1734.9 1393.1 L1735 1393.1 L1735.1 1393.1 L1735.2 1393.1 L1735.4 1393.1 L1735.5 1393.1 L1735.6 1393.1 L1735.7 1393.1 L1735.8 1393.1 L1735.9 1393.1 L1736 1393.1 L1736.1 1393.1 L1736.2 1393.1 L1736.3 1393.1 L1736.4 1393.1 L1736.5 1394 L1736.7 1394 L1736.8 1394 L1736.9 1394 L1737 1394 L1737.1 1394 L1737.2 1394 L1737.3 1394 L1737.4 1394 L1737.5 1394 L1737.6 1394 L1737.7 1394 L1737.8 1394 L1737.9 1394 L1738.1 1394 L1738.2 1394.9 L1738.3 1394.9 L1738.4 1394.9 L1738.5 1394.9 L1738.6 1394.9 L1738.7 1394.9 L1738.8 1394.9 L1738.9 1394.9 L1739 1394.9 L1739.1 1394.9 L1739.2 1394.9 L1739.3 1394.9 L1739.4 1394.9 L1739.5 1394.9 L1739.6 1394.9 L1739.7 1395.8 L1739.8 1395.8 L1739.9 1395.8 L1740.1 1395.8 L1740.2 1395.8 L1740.3 1395.8 L1740.4 1395.8 L1740.5 1395.8 L1740.6 1395.8 L1740.7 1395.8 L1740.8 1395.8 L1740.9 1395.8 L1741 1395.8 L1741.1 1395.8 L1741.2 1395.8 L1741.3 1396.6" fill="none" stroke="none" marker-start="url(#mGA)" marker-mid="url(#mGA)" marker-end="url(#mGA)"/>
<path d="M1028.5 1255 L1141.9 1255 L1171.5 1257.9 L1194.6 1259.1 L1213.4 1260.7 L1229.3 1262.8 L1243.1 1264 L1255.2 1265.3 L1266.1 1265.3 L1275.9 1266.5 L1741.3 1266.5" fill="none" stroke="#FFB900" stroke-width="2.3" stroke-linejoin="round"/>
<path d="M1425.8 1266.5 L1741.3 1266.5" fill="none" stroke="none" marker-start="url(#fFA)" marker-mid="url(#fFA)" marker-end="url(#fFA)"/>
<path d="M1425.8 1266.5H1741.3" fill="none" stroke="#FFB800" stroke-width="7.8" stroke-linecap="butt"/>
<path d="M1425.8 1266.5H1741.3" fill="none" stroke="#FFBF00" stroke-width="5.8" stroke-linecap="butt"/>
<path d="M1028.5 1255 L1100 1255 L1141.9 1255 L1171.5 1257.9 L1194.6 1259.1 L1213.4 1260.7 L1229.3 1262.8 L1243.1 1264 L1255.2 1265.3 L1266.1 1265.3 L1275.9 1266.5 L1284.9 1266.5 L1293.2 1266.5 L1300.8 1266.5 L1307.9 1266.5 L1314.6 1266.5 L1320.9 1266.5 L1326.8 1266.5 L1332.3 1266.5 L1337.6 1266.5 L1342.7 1266.5 L1347.5 1266.5 L1352 1266.5 L1356.4 1266.5 L1360.7 1266.5 L1364.7 1266.5 L1368.6 1266.5 L1372.3 1266.5 L1376 1266.5 L1379.5 1266.5 L1382.8 1266.5 L1386.1 1266.5 L1389.3 1266.5 L1392.4 1266.5 L1395.4 1266.5 L1398.3 1266.5 L1401.1 1266.5 L1403.9 1266.5 L1406.5 1266.5 L1409.1 1266.5 L1411.7 1266.5 L1414.2 1266.5 L1416.6 1266.5 L1419 1266.5 L1421.3 1266.5 L1423.6 1266.5" fill="none" stroke="none" marker-start="url(#mFA)" marker-mid="url(#mFA)" marker-end="url(#mFA)"/>
<path d="M1028.5 1258.7 L1100 1258.7 L1141.9 1259.9 L1171.5 1261.6 L1194.6 1263.2 L1213.4 1264.5 L1229.3 1265.7 L1243.1 1267.3 L1255.2 1268.2 L1266.1 1269 L1293.2 1269 L1300.8 1269.8 L1741.3 1269.8" fill="none" stroke="#1C4BBF" stroke-width="2.3" stroke-linejoin="round"/>
<path d="M1425.8 1269.8 L1741.3 1269.8" fill="none" stroke="none" marker-start="url(#fSCA)" marker-mid="url(#fSCA)" marker-end="url(#fSCA)"/>
<path d="M1425.8 1269.8H1741.3" fill="none" stroke="#2256BE" stroke-width="7.8" stroke-linecap="butt"/>
<path d="M1425.8 1269.8H1741.3" fill="none" stroke="#3B6AC6" stroke-width="5.8" stroke-linecap="butt"/>
<path d="M1028.5 1258.7 L1100 1258.7 L1141.9 1259.9 L1171.5 1261.6 L1194.6 1263.2 L1213.4 1264.5 L1229.3 1265.7 L1243.1 1267.3 L1255.2 1268.2 L1266.1 1269 L1275.9 1269 L1284.9 1269 L1293.2 1269 L1300.8 1269.8 L1307.9 1269.8 L1314.6 1269.8 L1320.9 1269.8 L1326.8 1269.8 L1332.3 1269.8 L1337.6 1269.8 L1342.7 1269.8 L1347.5 1269.8 L1352 1269.8 L1356.4 1269.8 L1360.7 1269.8 L1364.7 1269.8 L1368.6 1269.8 L1372.3 1269.8 L1376 1269.8 L1379.5 1269.8 L1382.8 1269.8 L1386.1 1269.8 L1389.3 1269.8 L1392.4 1269.8 L1395.4 1269.8 L1398.3 1269.8 L1401.1 1269.8 L1403.9 1269.8 L1406.5 1269.8 L1409.1 1269.8 L1411.7 1269.8 L1414.2 1269.8 L1416.6 1269.8 L1419 1269.8 L1421.3 1269.8 L1423.6 1269.8" fill="none" stroke="none" marker-start="url(#mSCA)" marker-mid="url(#mSCA)" marker-end="url(#mSCA)"/>
<path d="M1028.5 1264.5 L1100 1298.2 L1141.9 1323.3 L1171.5 1357.9 L1194.6 1400.8 L1213.4 1425.1 L1229.3 1476.9 L1243.1 1544.1 L1255.2 1551.5 L1275.9 1551.5 L1284.9 1567.5 L1293.2 1567.5 L1300.8 1574.5 L1307.9 1589.8 L1320.9 1589.8 L1326.8 1596.4 L1337.6 1596.4 L1342.7 1605.8 L1651 1605.8 L1651.3 1616.5 L1741.3 1616.5" fill="none" stroke="#409414" stroke-width="2.4" stroke-linejoin="round"/>
<rect x="1028.5" y="1223.2" width="731" height="440.7" fill="none" stroke="#222" stroke-width="1.5"/>
<g font-size="20.0" text-anchor="end"><text x="1011.3" y="1258.7">1.E+02</text><text x="1011.3" y="1341.1">1.E+00</text><text x="1011.3" y="1423.4">1.E-02</text><text x="1011.3" y="1505.8">1.E-04</text><text x="1011.3" y="1588.1">1.E-06</text><text x="1011.3" y="1670.5">1.E-08</text></g>
<g font-size="19.6" text-anchor="middle"><text x="1028.5" y="1694.8">1.E+00</text><text x="1266.1" y="1694.8">1.E+01</text><text x="1503.7" y="1694.8">1.E+02</text><text x="1741.3" y="1694.8">1.E+03</text></g>
<text x="1393.8" y="1725.5" font-size="20.4" text-anchor="middle">Iteration Number</text>
<text transform="translate(933.8 1451.4) rotate(-90)" font-size="20.4" text-anchor="middle">Objective Function Value</text>
<g font-size="20.4"><path d="M1042.2 1745.8H1085.9" stroke="#2A7AD0" stroke-width="2.2" stroke-dasharray="8 10.3" stroke-linecap="round" fill="none"/><text x="1089.4" y="1752">MA</text><path d="M1144.9 1745.8H1189.7" stroke="#EF6A1A" stroke-width="2.2" fill="none"/><path d="M1167.3 1745.8L1167.3 1745.8" stroke="none" fill="none" marker-start="url(#mPSO)"/><text x="1193.2" y="1752">PSO</text><path d="M1252.3 1745.8H1297.1" stroke="#8F8F8F" stroke-width="2.2" fill="none"/><path d="M1274.7 1745.8L1274.7 1745.8" stroke="none" fill="none" marker-start="url(#mGA)"/><text x="1300.6" y="1752">GA</text><path d="M1352.8 1745.8H1397.6" stroke="#FFB900" stroke-width="2.2" fill="none"/><path d="M1375.2 1745.8L1375.2 1745.8" stroke="none" fill="none" marker-start="url(#mFA)"/><text x="1401.1" y="1752">FA</text><path d="M1448.6 1745.8H1493.4" stroke="#1C4BBF" stroke-width="2.2" fill="none"/><path d="M1471 1745.8L1471 1745.8" stroke="none" fill="none" marker-start="url(#mSCA)"/><text x="1496.9" y="1752">SCA</text><path d="M1559.3 1745.8H1604.1" stroke="#409414" stroke-width="2.2" fill="none"/><text x="1607.6" y="1752">HSI-MA</text></g>
<text x="1354.2" y="1798.7" font-size="37.5" text-anchor="middle">(f)</text>
</g>
<g>
<path d="M542.9 1893.4 L613.4 1893.4 L654.6 1894.7 L683.8 1894.7 L706.5 1896.5 L725.1 1896.5 L740.7 1898.2 L754.3 1898.2 L766.3 1900.8 L777 1900.8 L786.7 1903.4 L795.5 1903.4 L803.7 1907.8 L811.2 1909.5 L818.2 1917.4 L824.8 1923.9 L830.9 1927.4 L842.3 1927.4 L847.5 1929.6 L857.2 1929.6 L861.7 1936.5 L870.2 1936.5 L874.1 1946.6 L885.2 1946.6 L888.7 1957 L898.4 1957 L901.4 1967.5 L907.2 1967.5 L910 1977.9 L912.7 1992.7 L915.4 1995.8 L917.9 1995.8 L920.5 2022.3 L922.9 2022.3 L925.3 2051.9 L927.6 2069.8 L932.2 2069.8 L934.3 2087.7 L938.6 2087.7 L940.6 2090.7 L942.6 2111.6 L944.6 2140.8 L948.5 2140.8 L950.3 2151.2 L967.3 2151.2 L968.9 2156 L983.2 2156 L984.5 2163.4 L1025.3 2163.4 L1026.2 2166.5 L1044.6 2166.5 L1045.3 2172.1 L1133.7 2172.1 L1134 2174.3 L1245.2 2174.3" fill="none" stroke="#2A7AD0" stroke-width="2.2" stroke-linejoin="round" stroke-dasharray="8 10.3" stroke-linecap="round"/>
<path d="M542.9 1895.6 L613.4 1895.6 L654.6 1897.3 L683.8 1897.3 L706.5 1900 L725.1 1900 L740.7 1901.7 L754.3 1901.7 L766.3 1903.4 L786.7 1903.4 L795.5 1906.1 L842.3 1906.1 L847.5 1907.8 L885.2 1907.8 L888.7 1915.2 L920.5 1915.2 L922.9 1918.7 L1031.3 1918.7 L1032.1 1923.9 L1046.8 1923.9 L1047.5 1928.3 L1070.3 1928.3 L1070.9 1931.3 L1089.9 1931.3 L1090.3 1937 L1101 1937 L1101.4 1939.4 L1110.9 1939.4 L1111.3 1941.6 L1120 1941.6 L1120.4 1943.6 L1128.4 1943.6 L1128.7 1945.4 L1136.1 1945.4 L1136.4 1947.1 L1141.6 1947.1 L1141.9 1948.3 L1144.4 1948.3 L1144.7 1950.1 L1147.1 1950.1 L1147.4 1951.8 L1149.7 1951.8 L1150 1953.4 L1152.3 1953.4 L1152.5 1955.1 L1153.3 1955.1 L1153.6 1955.7 L1155.3 1955.7 L1155.5 1957.5 L1157.2 1957.5 L1157.5 1959.3 L1159.2 1959.3 L1159.4 1961 L1161 1961 L1161.3 1962.7 L1161.5 1962.7 L1161.7 1963.1 L1163.8 1963.1 L1164 1964.6 L1166 1964.6 L1166.3 1966.1 L1168.2 1966.1 L1168.4 1967.5 L1170.4 1967.5 L1170.6 1968.9 L1172.5 1968.9 L1172.7 1970.3 L1174.5 1970.3 L1174.7 1971.6 L1176.5 1971.6 L1176.7 1972.9 L1178.5 1972.9 L1178.7 1974.2 L1179.5 1974.2 L1179.7 1974.9 L1181 1974.9 L1181.2 1976.3 L1182.6 1976.3 L1182.7 1977.7 L1184 1977.7 L1184.2 1979.1 L1185.5 1979.1 L1185.7 1980.5 L1186.1 1980.5 L1186.3 1981 L1207.3 1981 L1207.5 1984.9 L1208.8 1984.9 L1208.9 1986.8 L1210.2 1986.8 L1210.4 1988.6 L1211.7 1988.6 L1211.8 1990.4 L1213.1 1990.4 L1213.2 1992.2 L1214.4 1992.2 L1214.6 1994 L1215.8 1994 L1216 1995.8 L1216.9 1995.8 L1217 1997.5 L1218 1997.5 L1218.1 1999.3 L1219 1999.3 L1219.2 2001 L1220.1 2001 L1220.2 2002.8 L1221.1 2002.8 L1221.2 2004.5 L1221.9 2004.5 L1222 2006.7 L1222.6 2006.7 L1222.8 2008.9 L1223.4 2008.9 L1223.5 2011.1 L1224.2 2011.1 L1224.3 2013.3 L1224.4 2013.6 L1245.2 2013.6" fill="none" stroke="#EF6A1A" stroke-width="2.2" stroke-linejoin="round"/>
<path d="M932.2 1918.7H1031.3M1032.1 1923.9H1046.8M1047.5 1928.3H1070.3M1070.9 1931.3H1089.9M1090.3 1937H1101M1101.4 1939.4H1110.9M1111.3 1941.6H1120M1120.4 1943.6H1128.4M1128.7 1945.4H1136.1M1136.4 1947.1H1141.6M1186.3 1981H1207.3M1224.4 2013.6H1245.2" fill="none" stroke="#EB620F" stroke-width="7.6" stroke-linecap="round"/>
<path d="M932.2 1918.7H1031.3M1032.1 1923.9H1046.8M1047.5 1928.3H1070.3M1070.9 1931.3H1089.9M1090.3 1937H1101M1101.4 1939.4H1110.9M1111.3 1941.6H1120M1120.4 1943.6H1128.4M1128.7 1945.4H1136.1M1136.4 1947.1H1141.6M1186.3 1981H1207.3M1224.4 2013.6H1245.2" fill="none" stroke="#EE7428" stroke-width="5.6" stroke-linecap="round"/>
<path d="M542.9 1895.6 L613.4 1895.6 L654.6 1897.3 L683.8 1897.3 L706.5 1900 L725.1 1900 L740.7 1901.7 L754.3 1901.7 L766.3 1903.4 L777 1903.4 L786.7 1903.4 L795.5 1906.1 L803.7 1906.1 L811.2 1906.1 L818.2 1906.1 L824.8 1906.1 L830.9 1906.1 L836.8 1906.1 L842.3 1906.1 L847.5 1907.8 L852.4 1907.8 L857.2 1907.8 L861.7 1907.8 L866 1907.8 L870.2 1907.8 L874.1 1907.8 L878 1907.8 L881.7 1907.8 L885.2 1907.8 L888.7 1915.2 L892 1915.2 L895.3 1915.2 L898.4 1915.2 L901.4 1915.2 L904.4 1915.2 L907.2 1915.2 L910 1915.2 L912.7 1915.2 L915.4 1915.2 L917.9 1915.2 L920.5 1915.2 L922.9 1918.7 L925.3 1918.7 L927.6 1918.7 L929.9 1918.7 L1141.9 1948.3 L1142.2 1948.3 L1142.5 1948.3 L1142.7 1948.3 L1143 1948.3 L1143.3 1948.3 L1143.6 1948.3 L1143.8 1948.3 L1144.1 1948.3 L1144.4 1948.3 L1144.7 1950.1 L1144.9 1950.1 L1145.2 1950.1 L1145.5 1950.1 L1145.8 1950.1 L1146 1950.1 L1146.3 1950.1 L1146.6 1950.1 L1146.8 1950.1 L1147.1 1950.1 L1147.4 1951.8 L1147.6 1951.8 L1147.9 1951.8 L1148.2 1951.8 L1148.4 1951.8 L1148.7 1951.8 L1148.9 1951.8 L1149.2 1951.8 L1149.5 1951.8 L1149.7 1951.8 L1150 1953.4 L1150.2 1953.4 L1150.5 1953.4 L1150.8 1953.4 L1151 1953.4 L1151.3 1953.4 L1151.5 1953.4 L1151.8 1953.4 L1152 1953.4 L1152.3 1953.4 L1152.5 1955.1 L1152.8 1955.1 L1153.1 1955.1 L1153.3 1955.1 L1153.6 1955.7 L1153.8 1955.7 L1154.1 1955.7 L1154.3 1955.7 L1154.6 1955.7 L1154.8 1955.7 L1155 1955.7 L1155.3 1955.7 L1155.5 1957.5 L1155.8 1957.5 L1156 1957.5 L1156.3 1957.5 L1156.5 1957.5 L1156.8 1957.5 L1157 1957.5 L1157.2 1957.5 L1157.5 1959.3 L1157.7 1959.3 L1158 1959.3 L1158.2 1959.3 L1158.4 1959.3 L1158.7 1959.3 L1158.9 1959.3 L1159.2 1959.3 L1159.4 1961 L1159.6 1961 L1159.9 1961 L1160.1 1961 L1160.3 1961 L1160.6 1961 L1160.8 1961 L1161 1961 L1161.3 1962.7 L1161.5 1962.7 L1161.7 1963.1 L1162 1963.1 L1162.2 1963.1 L1162.4 1963.1 L1162.7 1963.1 L1162.9 1963.1 L1163.1 1963.1 L1163.3 1963.1 L1163.6 1963.1 L1163.8 1963.1 L1164 1964.6 L1164.2 1964.6 L1164.5 1964.6 L1164.7 1964.6 L1164.9 1964.6 L1165.1 1964.6 L1165.4 1964.6 L1165.6 1964.6 L1165.8 1964.6 L1166 1964.6 L1166.3 1966.1 L1166.5 1966.1 L1166.7 1966.1 L1166.9 1966.1 L1167.1 1966.1 L1167.4 1966.1 L1167.6 1966.1 L1167.8 1966.1 L1168 1966.1 L1168.2 1966.1 L1168.4 1967.5 L1168.7 1967.5 L1168.9 1967.5 L1169.1 1967.5 L1169.3 1967.5 L1169.5 1967.5 L1169.7 1967.5 L1169.9 1967.5 L1170.2 1967.5 L1170.4 1967.5 L1170.6 1968.9 L1170.8 1968.9 L1171 1968.9 L1171.2 1968.9 L1171.4 1968.9 L1171.6 1968.9 L1171.8 1968.9 L1172.1 1968.9 L1172.3 1968.9 L1172.5 1968.9 L1172.7 1970.3 L1172.9 1970.3 L1173.1 1970.3 L1173.3 1970.3 L1173.5 1970.3 L1173.7 1970.3 L1173.9 1970.3 L1174.1 1970.3 L1174.3 1970.3 L1174.5 1970.3 L1174.7 1971.6 L1174.9 1971.6 L1175.1 1971.6 L1175.3 1971.6 L1175.5 1971.6 L1175.7 1971.6 L1175.9 1971.6 L1176.1 1971.6 L1176.3 1971.6 L1176.5 1971.6 L1176.7 1972.9 L1176.9 1972.9 L1177.1 1972.9 L1177.3 1972.9 L1177.5 1972.9 L1177.7 1972.9 L1177.9 1972.9 L1178.1 1972.9 L1178.3 1972.9 L1178.5 1972.9 L1178.7 1974.2 L1178.9 1974.2 L1179.1 1974.2 L1179.3 1974.2 L1179.5 1974.2 L1179.7 1974.9 L1179.9 1974.9 L1180.1 1974.9 L1180.3 1974.9 L1180.5 1974.9 L1180.7 1974.9 L1180.8 1974.9 L1181 1974.9 L1181.2 1976.3 L1181.4 1976.3 L1181.6 1976.3 L1181.8 1976.3 L1182 1976.3 L1182.2 1976.3 L1182.4 1976.3 L1182.6 1976.3 L1182.7 1977.7 L1182.9 1977.7 L1183.1 1977.7 L1183.3 1977.7 L1183.5 1977.7 L1183.7 1977.7 L1183.9 1977.7 L1184 1977.7 L1184.2 1979.1 L1184.4 1979.1 L1184.6 1979.1 L1184.8 1979.1 L1185 1979.1 L1185.2 1979.1 L1185.3 1979.1 L1185.5 1979.1 L1185.7 1980.5 L1185.9 1980.5 L1186.1 1980.5 L1207.5 1984.9 L1207.6 1984.9 L1207.8 1984.9 L1207.9 1984.9 L1208.1 1984.9 L1208.2 1984.9 L1208.4 1984.9 L1208.5 1984.9 L1208.6 1984.9 L1208.8 1984.9 L1208.9 1986.8 L1209.1 1986.8 L1209.2 1986.8 L1209.4 1986.8 L1209.5 1986.8 L1209.7 1986.8 L1209.8 1986.8 L1209.9 1986.8 L1210.1 1986.8 L1210.2 1986.8 L1210.4 1988.6 L1210.5 1988.6 L1210.7 1988.6 L1210.8 1988.6 L1211 1988.6 L1211.1 1988.6 L1211.2 1988.6 L1211.4 1988.6 L1211.5 1988.6 L1211.7 1988.6 L1211.8 1990.4 L1211.9 1990.4 L1212.1 1990.4 L1212.2 1990.4 L1212.4 1990.4 L1212.5 1990.4 L1212.6 1990.4 L1212.8 1990.4 L1212.9 1990.4 L1213.1 1990.4 L1213.2 1992.2 L1213.3 1992.2 L1213.5 1992.2 L1213.6 1992.2 L1213.8 1992.2 L1213.9 1992.2 L1214 1992.2 L1214.2 1992.2 L1214.3 1992.2 L1214.4 1992.2 L1214.6 1994 L1214.7 1994 L1214.9 1994 L1215 1994 L1215.1 1994 L1215.3 1994 L1215.4 1994 L1215.5 1994 L1215.7 1994 L1215.8 1994 L1216 1995.8 L1216.1 1995.8 L1216.2 1995.8 L1216.4 1995.8 L1216.5 1995.8 L1216.6 1995.8 L1216.8 1995.8 L1216.9 1995.8 L1217 1997.5 L1217.2 1997.5 L1217.3 1997.5 L1217.4 1997.5 L1217.6 1997.5 L1217.7 1997.5 L1217.8 1997.5 L1218 1997.5 L1218.1 1999.3 L1218.2 1999.3 L1218.4 1999.3 L1218.5 1999.3 L1218.6 1999.3 L1218.8 1999.3 L1218.9 1999.3 L1219 1999.3 L1219.2 2001 L1219.3 2001 L1219.4 2001 L1219.5 2001 L1219.7 2001 L1219.8 2001 L1219.9 2001 L1220.1 2001 L1220.2 2002.8 L1220.3 2002.8 L1220.5 2002.8 L1220.6 2002.8 L1220.7 2002.8 L1220.8 2002.8 L1221 2002.8 L1221.1 2002.8 L1221.2 2004.5 L1221.4 2004.5 L1221.5 2004.5 L1221.6 2004.5 L1221.7 2004.5 L1221.9 2004.5 L1222 2006.7 L1222.1 2006.7 L1222.3 2006.7 L1222.4 2006.7 L1222.5 2006.7 L1222.6 2006.7 L1222.8 2008.9 L1222.9 2008.9 L1223 2008.9 L1223.1 2008.9 L1223.3 2008.9 L1223.4 2008.9 L1223.5 2011.1 L1223.7 2011.1 L1223.8 2011.1 L1223.9 2011.1 L1224 2011.1 L1224.2 2011.1 L1224.3 2013.3" fill="none" stroke="none" marker-start="url(#mPSO)" marker-mid="url(#mPSO)" marker-end="url(#mPSO)"/>
<path d="M542.9 1891.7 L613.4 1891.7 L654.6 1892.6 L683.8 1896.9 L706.5 1898.2 L725.1 1899.1 L740.7 1900 L754.3 1903.4 L766.3 1905.6 L803.7 1905.6 L811.2 1909.5 L842.3 1909.5 L847.5 1913 L878 1913 L881.7 1918.7 L901.4 1918.7 L904.4 1921.7 L917.9 1921.7 L920.5 1923.9 L977.7 1923.9 L979.1 1927.4 L1013.1 1927.4 L1014.1 1930.9 L1048.2 1930.9 L1048.9 1934.8 L1075.8 1934.8 L1076.4 1937.8 L1109.8 1937.8 L1110.2 1942.2 L1120.7 1942.2 L1121.1 1943.6 L1130.6 1943.6 L1130.9 1944.8 L1139.6 1944.8 L1139.9 1945.9 L1147.9 1945.9 L1148.2 1946.9 L1155.5 1946.9 L1155.8 1947.9 L1159.2 1947.9 L1159.4 1948.3 L1162.7 1948.3 L1162.9 1949.2 L1166 1949.2 L1166.3 1950 L1169.3 1950 L1169.5 1950.8 L1172.5 1950.8 L1172.7 1951.6 L1175.5 1951.6 L1175.7 1952.3 L1178.5 1952.3 L1178.7 1953.1 L1180.5 1953.1 L1180.7 1953.5 L1182.4 1953.5 L1182.6 1955.5 L1184.2 1955.5 L1184.4 1957.5 L1186.1 1957.5 L1186.3 1959.4 L1187.9 1959.4 L1188.1 1961.3 L1189.6 1961.3 L1189.8 1963.1 L1191.4 1963.1 L1191.6 1969.2 L1211.7 1969.2 L1211.8 1976.6 L1212.8 1976.6 L1212.9 1979.3 L1213.9 1979.3 L1214 1981.9 L1215 1981.9 L1215.1 1984.5 L1216.1 1984.5 L1216.2 1987 L1217.2 1987 L1217.3 1989.6 L1218.2 1989.6 L1218.4 1992.1 L1218.5 1992.1 L1218.6 1992.7 L1219.5 1992.7 L1219.7 1994.1 L1220.6 1994.1 L1220.7 1995.4 L1221.6 1995.4 L1221.7 1996.7 L1222.6 1996.7 L1222.8 1998 L1223.7 1998 L1223.8 1999.3 L1224.3 1999.3 L1224.4 2000.1 L1225.5 2000.1 L1225.6 2000.9 L1226.7 2000.9 L1226.9 2001.7 L1228 2001.7 L1228.1 2002.5 L1229.2 2002.5 L1229.3 2003.3 L1230.3 2003.3 L1230.5 2004 L1245.2 2004" fill="none" stroke="#8F8F8F" stroke-width="2.0" stroke-linejoin="round"/>
<path d="M932.2 1923.9H977.7M979.1 1927.4H1013.1M1014.1 1930.9H1048.2M1048.9 1934.8H1075.8M1076.4 1937.8H1109.8M1110.2 1942.2H1120.7M1121.1 1943.6H1130.6M1130.9 1944.8H1139.6M1139.9 1945.9H1147.9M1148.2 1946.9H1155.5M1155.8 1947.9H1159.2M1159.4 1948.3H1162.7M1162.9 1949.2H1166M1166.3 1950H1169.3M1191.6 1969.2H1211.7M1230.5 2004H1245.2" fill="none" stroke="#999999" stroke-width="7.3" stroke-linecap="square"/>
<path d="M932.2 1923.9H977.7M979.1 1927.4H1013.1M1014.1 1930.9H1048.2M1048.9 1934.8H1075.8M1076.4 1937.8H1109.8M1110.2 1942.2H1120.7M1121.1 1943.6H1130.6M1130.9 1944.8H1139.6M1139.9 1945.9H1147.9M1148.2 1946.9H1155.5M1155.8 1947.9H1159.2M1159.4 1948.3H1162.7M1162.9 1949.2H1166M1166.3 1950H1169.3M1191.6 1969.2H1211.7M1230.5 2004H1245.2" fill="none" stroke="#A2A2A2" stroke-width="5.3" stroke-linecap="square"/>
<path d="M542.9 1891.7 L613.4 1891.7 L654.6 1892.6 L683.8 1896.9 L706.5 1898.2 L725.1 1899.1 L740.7 1900 L754.3 1903.4 L766.3 1905.6 L777 1905.6 L786.7 1905.6 L795.5 1905.6 L803.7 1905.6 L811.2 1909.5 L818.2 1909.5 L824.8 1909.5 L830.9 1909.5 L836.8 1909.5 L842.3 1909.5 L847.5 1913 L852.4 1913 L857.2 1913 L861.7 1913 L866 1913 L870.2 1913 L874.1 1913 L878 1913 L881.7 1918.7 L885.2 1918.7 L888.7 1918.7 L892 1918.7 L895.3 1918.7 L898.4 1918.7 L901.4 1918.7 L904.4 1921.7 L907.2 1921.7 L910 1921.7 L912.7 1921.7 L915.4 1921.7 L917.9 1921.7 L920.5 1923.9 L922.9 1923.9 L925.3 1923.9 L927.6 1923.9 L929.9 1923.9 L1169.5 1950.8 L1169.7 1950.8 L1169.9 1950.8 L1170.2 1950.8 L1170.4 1950.8 L1170.6 1950.8 L1170.8 1950.8 L1171 1950.8 L1171.2 1950.8 L1171.4 1950.8 L1171.6 1950.8 L1171.8 1950.8 L1172.1 1950.8 L1172.3 1950.8 L1172.5 1950.8 L1172.7 1951.6 L1172.9 1951.6 L1173.1 1951.6 L1173.3 1951.6 L1173.5 1951.6 L1173.7 1951.6 L1173.9 1951.6 L1174.1 1951.6 L1174.3 1951.6 L1174.5 1951.6 L1174.7 1951.6 L1174.9 1951.6 L1175.1 1951.6 L1175.3 1951.6 L1175.5 1951.6 L1175.7 1952.3 L1175.9 1952.3 L1176.1 1952.3 L1176.3 1952.3 L1176.5 1952.3 L1176.7 1952.3 L1176.9 1952.3 L1177.1 1952.3 L1177.3 1952.3 L1177.5 1952.3 L1177.7 1952.3 L1177.9 1952.3 L1178.1 1952.3 L1178.3 1952.3 L1178.5 1952.3 L1178.7 1953.1 L1178.9 1953.1 L1179.1 1953.1 L1179.3 1953.1 L1179.5 1953.1 L1179.7 1953.1 L1179.9 1953.1 L1180.1 1953.1 L1180.3 1953.1 L1180.5 1953.1 L1180.7 1953.5 L1180.8 1953.5 L1181 1953.5 L1181.2 1953.5 L1181.4 1953.5 L1181.6 1953.5 L1181.8 1953.5 L1182 1953.5 L1182.2 1953.5 L1182.4 1953.5 L1182.6 1955.5 L1182.7 1955.5 L1182.9 1955.5 L1183.1 1955.5 L1183.3 1955.5 L1183.5 1955.5 L1183.7 1955.5 L1183.9 1955.5 L1184 1955.5 L1184.2 1955.5 L1184.4 1957.5 L1184.6 1957.5 L1184.8 1957.5 L1185 1957.5 L1185.2 1957.5 L1185.3 1957.5 L1185.5 1957.5 L1185.7 1957.5 L1185.9 1957.5 L1186.1 1957.5 L1186.3 1959.4 L1186.4 1959.4 L1186.6 1959.4 L1186.8 1959.4 L1187 1959.4 L1187.2 1959.4 L1187.3 1959.4 L1187.5 1959.4 L1187.7 1959.4 L1187.9 1959.4 L1188.1 1961.3 L1188.2 1961.3 L1188.4 1961.3 L1188.6 1961.3 L1188.8 1961.3 L1188.9 1961.3 L1189.1 1961.3 L1189.3 1961.3 L1189.5 1961.3 L1189.6 1961.3 L1189.8 1963.1 L1190 1963.1 L1190.2 1963.1 L1190.3 1963.1 L1190.5 1963.1 L1190.7 1963.1 L1190.9 1963.1 L1191 1963.1 L1191.2 1963.1 L1191.4 1963.1 L1211.8 1976.6 L1211.9 1976.6 L1212.1 1976.6 L1212.2 1976.6 L1212.4 1976.6 L1212.5 1976.6 L1212.6 1976.6 L1212.8 1976.6 L1212.9 1979.3 L1213.1 1979.3 L1213.2 1979.3 L1213.3 1979.3 L1213.5 1979.3 L1213.6 1979.3 L1213.8 1979.3 L1213.9 1979.3 L1214 1981.9 L1214.2 1981.9 L1214.3 1981.9 L1214.4 1981.9 L1214.6 1981.9 L1214.7 1981.9 L1214.9 1981.9 L1215 1981.9 L1215.1 1984.5 L1215.3 1984.5 L1215.4 1984.5 L1215.5 1984.5 L1215.7 1984.5 L1215.8 1984.5 L1216 1984.5 L1216.1 1984.5 L1216.2 1987 L1216.4 1987 L1216.5 1987 L1216.6 1987 L1216.8 1987 L1216.9 1987 L1217 1987 L1217.2 1987 L1217.3 1989.6 L1217.4 1989.6 L1217.6 1989.6 L1217.7 1989.6 L1217.8 1989.6 L1218 1989.6 L1218.1 1989.6 L1218.2 1989.6 L1218.4 1992.1 L1218.5 1992.1 L1218.6 1992.7 L1218.8 1992.7 L1218.9 1992.7 L1219 1992.7 L1219.2 1992.7 L1219.3 1992.7 L1219.4 1992.7 L1219.5 1992.7 L1219.7 1994.1 L1219.8 1994.1 L1219.9 1994.1 L1220.1 1994.1 L1220.2 1994.1 L1220.3 1994.1 L1220.5 1994.1 L1220.6 1994.1 L1220.7 1995.4 L1220.8 1995.4 L1221 1995.4 L1221.1 1995.4 L1221.2 1995.4 L1221.4 1995.4 L1221.5 1995.4 L1221.6 1995.4 L1221.7 1996.7 L1221.9 1996.7 L1222 1996.7 L1222.1 1996.7 L1222.3 1996.7 L1222.4 1996.7 L1222.5 1996.7 L1222.6 1996.7 L1222.8 1998 L1222.9 1998 L1223 1998 L1223.1 1998 L1223.3 1998 L1223.4 1998 L1223.5 1998 L1223.7 1998 L1223.8 1999.3 L1223.9 1999.3 L1224 1999.3 L1224.2 1999.3 L1224.3 1999.3 L1224.4 2000.1 L1224.5 2000.1 L1224.7 2000.1 L1224.8 2000.1 L1224.9 2000.1 L1225 2000.1 L1225.1 2000.1 L1225.3 2000.1 L1225.4 2000.1 L1225.5 2000.1 L1225.6 2000.9 L1225.8 2000.9 L1225.9 2000.9 L1226 2000.9 L1226.1 2000.9 L1226.3 2000.9 L1226.4 2000.9 L1226.5 2000.9 L1226.6 2000.9 L1226.7 2000.9 L1226.9 2001.7 L1227 2001.7 L1227.1 2001.7 L1227.2 2001.7 L1227.4 2001.7 L1227.5 2001.7 L1227.6 2001.7 L1227.7 2001.7 L1227.8 2001.7 L1228 2001.7 L1228.1 2002.5 L1228.2 2002.5 L1228.3 2002.5 L1228.4 2002.5 L1228.6 2002.5 L1228.7 2002.5 L1228.8 2002.5 L1228.9 2002.5 L1229 2002.5 L1229.2 2002.5 L1229.3 2003.3 L1229.4 2003.3 L1229.5 2003.3 L1229.6 2003.3 L1229.7 2003.3 L1229.9 2003.3 L1230 2003.3 L1230.1 2003.3 L1230.2 2003.3 L1230.3 2003.3" fill="none" stroke="none" marker-start="url(#mGA)" marker-mid="url(#mGA)" marker-end="url(#mGA)"/>
<path d="M542.9 1889.1 L613.4 1889.5 L654.6 1889.9 L683.8 1891.2 L706.5 1892.6 L725.1 1894.3 L740.7 1896.5 L754.3 1897.8 L766.3 1898.7 L786.7 1898.7 L795.5 1900 L1245.2 1900" fill="none" stroke="#FFB900" stroke-width="2.3" stroke-linejoin="round"/>
<path d="M932.2 1900 L1245.2 1900" fill="none" stroke="none" marker-start="url(#fFA)" marker-mid="url(#fFA)" marker-end="url(#fFA)"/>
<path d="M932.2 1900H1245.2" fill="none" stroke="#FFB800" stroke-width="7.8" stroke-linecap="butt"/>
<path d="M932.2 1900H1245.2" fill="none" stroke="#FFBF00" stroke-width="5.8" stroke-linecap="butt"/>
<path d="M542.9 1889.1 L613.4 1889.5 L654.6 1889.9 L683.8 1891.2 L706.5 1892.6 L725.1 1894.3 L740.7 1896.5 L754.3 1897.8 L766.3 1898.7 L777 1898.7 L786.7 1898.7 L795.5 1900 L803.7 1900 L811.2 1900 L818.2 1900 L824.8 1900 L830.9 1900 L836.8 1900 L842.3 1900 L847.5 1900 L852.4 1900 L857.2 1900 L861.7 1900 L866 1900 L870.2 1900 L874.1 1900 L878 1900 L881.7 1900 L885.2 1900 L888.7 1900 L892 1900 L895.3 1900 L898.4 1900 L901.4 1900 L904.4 1900 L907.2 1900 L910 1900 L912.7 1900 L915.4 1900 L917.9 1900 L920.5 1900 L922.9 1900 L925.3 1900 L927.6 1900 L929.9 1900" fill="none" stroke="none" marker-start="url(#mFA)" marker-mid="url(#mFA)" marker-end="url(#mFA)"/>
<path d="M542.9 1898.2 L613.4 1898.2 L654.6 1899.1 L683.8 1900.8 L706.5 1901.7 L725.1 1902.6 L740.7 1902.6 L754.3 1903.4 L766.3 1904.3 L811.2 1904.3 L818.2 1905.2 L1245.2 1905.2" fill="none" stroke="#1C4BBF" stroke-width="2.3" stroke-linejoin="round"/>
<path d="M932.2 1905.2 L1245.2 1905.2" fill="none" stroke="none" marker-start="url(#fSCA)" marker-mid="url(#fSCA)" marker-end="url(#fSCA)"/>
<path d="M932.2 1905.2H1245.2" fill="none" stroke="#2256BE" stroke-width="7.8" stroke-linecap="butt"/>
<path d="M932.2 1905.2H1245.2" fill="none" stroke="#3B6AC6" stroke-width="5.8" stroke-linecap="butt"/>
<path d="M542.9 1898.2 L613.4 1898.2 L654.6 1899.1 L683.8 1900.8 L706.5 1901.7 L725.1 1902.6 L740.7 1902.6 L754.3 1903.4 L766.3 1904.3 L777 1904.3 L786.7 1904.3 L795.5 1904.3 L803.7 1904.3 L811.2 1904.3 L818.2 1905.2 L824.8 1905.2 L830.9 1905.2 L836.8 1905.2 L842.3 1905.2 L847.5 1905.2 L852.4 1905.2 L857.2 1905.2 L861.7 1905.2 L866 1905.2 L870.2 1905.2 L874.1 1905.2 L878 1905.2 L881.7 1905.2 L885.2 1905.2 L888.7 1905.2 L892 1905.2 L895.3 1905.2 L898.4 1905.2 L901.4 1905.2 L904.4 1905.2 L907.2 1905.2 L910 1905.2 L912.7 1905.2 L915.4 1905.2 L917.9 1905.2 L920.5 1905.2 L922.9 1905.2 L925.3 1905.2 L927.6 1905.2 L929.9 1905.2" fill="none" stroke="none" marker-start="url(#mSCA)" marker-mid="url(#mSCA)" marker-end="url(#mSCA)"/>
<path d="M542.9 1895.6 L613.4 1920 L654.6 1946.1 L683.8 1970.9 L706.5 1995.8 L725.1 2020.2 L740.7 2051.5 L754.3 2084.6 L766.3 2150.8 L777 2209.6 L803.7 2209.6 L811.2 2211.8 L818.2 2215.3 L824.8 2231.4 L992.2 2231.4 L993.4 2236.2 L1047.5 2236.2 L1048.2 2239.7 L1113.6 2239.7 L1113.9 2240.5 L1245.2 2240.5" fill="none" stroke="#409414" stroke-width="2.4" stroke-linejoin="round"/>
<rect x="542.9" y="1847.7" width="721.3" height="435.5" fill="none" stroke="#222" stroke-width="1.5"/>
<g font-size="20.0" text-anchor="end"><text x="524.8" y="1854.3">1.E+03</text><text x="524.8" y="1941.4">1.E+01</text><text x="524.8" y="2028.5">1.E-01</text><text x="524.8" y="2115.6">1.E-03</text><text x="524.8" y="2202.7">1.E-05</text><text x="524.8" y="2289.8">1.E-07</text></g>
<g font-size="19.6" text-anchor="middle"><text x="542.9" y="2313.5">1.E+00</text><text x="777" y="2313.5">1.E+01</text><text x="1011.1" y="2313.5">1.E+02</text><text x="1245.2" y="2313.5">1.E+03</text></g>
<text x="906.9" y="2338.6" font-size="20.4" text-anchor="middle">Iteration Number</text>
<text transform="translate(449.8 2061.9) rotate(-90)" font-size="20.4" text-anchor="middle">Objective Function Value</text>
<g font-size="20.4"><path d="M559.2 2363.2H602.9" stroke="#2A7AD0" stroke-width="2.2" stroke-dasharray="8 10.3" stroke-linecap="round" fill="none"/><text x="606.4" y="2369.4">MA</text><path d="M661.1 2363.2H705.9" stroke="#EF6A1A" stroke-width="2.2" fill="none"/><path d="M683.5 2363.2L683.5 2363.2" stroke="none" fill="none" marker-start="url(#mPSO)"/><text x="709.4" y="2369.4">PSO</text><path d="M767.9 2363.2H812.7" stroke="#8F8F8F" stroke-width="2.2" fill="none"/><path d="M790.3 2363.2L790.3 2363.2" stroke="none" fill="none" marker-start="url(#mGA)"/><text x="816.2" y="2369.4">GA</text><path d="M865.3 2363.2H910.1" stroke="#FFB900" stroke-width="2.2" fill="none"/><path d="M887.7 2363.2L887.7 2363.2" stroke="none" fill="none" marker-start="url(#mFA)"/><text x="913.6" y="2369.4">FA</text><path d="M960.7 2363.2H1005.5" stroke="#1C4BBF" stroke-width="2.2" fill="none"/><path d="M983.1 2363.2L983.1 2363.2" stroke="none" fill="none" marker-start="url(#mSCA)"/><text x="1009" y="2369.4">SCA</text><path d="M1069.6 2363.2H1114.4" stroke="#409414" stroke-width="2.2" fill="none"/><text x="1117.9" y="2369.4">HSI-MA</text></g>
<text x="870.4" y="2412.7" font-size="37.5" text-anchor="middle">(g)</text>
</g>
</svg></body></html>
